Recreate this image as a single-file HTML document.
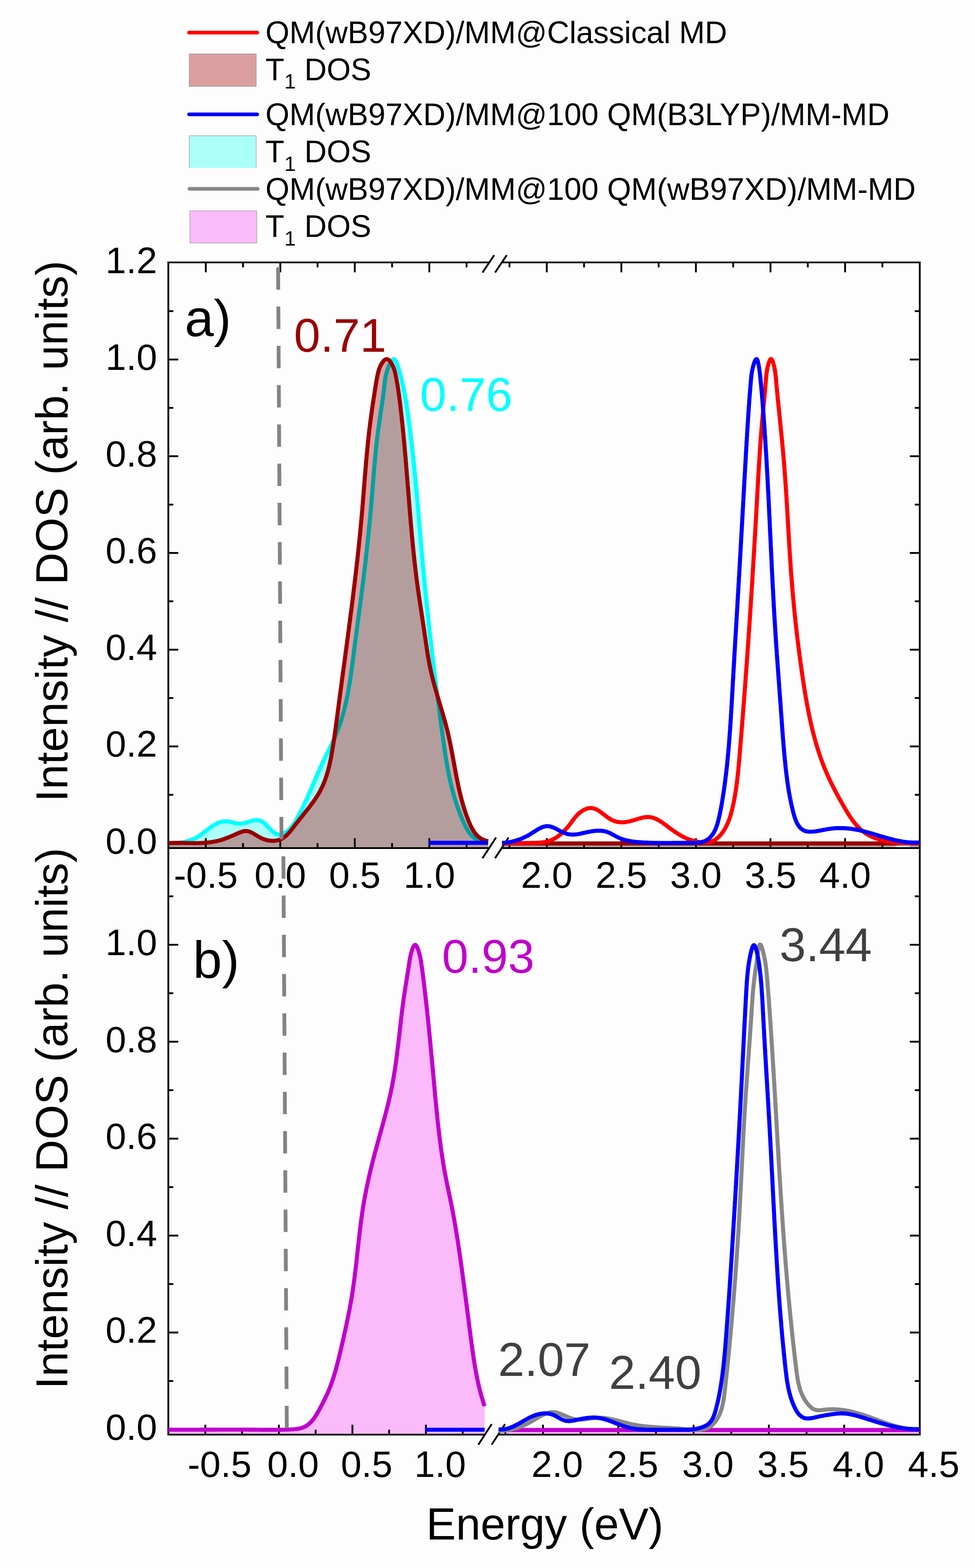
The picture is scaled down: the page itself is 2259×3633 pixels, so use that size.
<!DOCTYPE html><html><head><meta charset="utf-8"><title>T1 DOS and spectra</title>
<style>html,body{margin:0;padding:0;background:#fdfdfd;overflow:hidden;}svg{display:block;}text{font-family:"Liberation Sans",Arial,sans-serif;}</style></head><body>
<svg width="2259" height="3633" viewBox="0 0 2259 3633">
<rect x="0" y="0" width="2259" height="3633" fill="#fdfdfd"/>
<defs>
<path id="mf" d="M390,1953.3 394,1953.2 397.9,1953.1 401.9,1953 405.9,1953 409.9,1953 413.9,1953 417.9,1953 422,1953.1 426,1953.2 430,1953.2 434.1,1953.3 438.1,1953.4 442.1,1953.4 446.2,1953.4 450.2,1953.5 454.2,1953.4 458.3,1953.4 462.3,1953.3 466.3,1953.1 470.3,1952.9 474.3,1952.7 478.2,1952.4 482.2,1952 486.1,1951.6 490,1951 493.9,1950.4 497.8,1949.7 501.7,1948.9 505.5,1948 509.3,1947 513.1,1945.9 516.9,1944.7 520.6,1943.4 524.4,1942 528.1,1940.6 531.8,1939 535.6,1937.5 539.3,1935.9 543.1,1934.2 546.8,1932.6 550.7,1930.9 554.5,1929.3 558.4,1927.8 562.2,1926.5 566,1925.6 569.8,1925.3 573.4,1925.7 577,1926.5 580.5,1927.9 584,1929.5 587.4,1931.5 590.9,1933.6 594.5,1935.8 598.1,1937.9 601.7,1940 605.5,1942 609.4,1943.6 613.3,1945.1 617.3,1946.3 621.4,1947.2 625.4,1947.8 629.5,1948.1 633.5,1948.2 637.5,1947.9 641.3,1947.4 645.1,1946.5 648.8,1945.3 652.3,1943.7 655.6,1941.9 658.8,1939.7 661.8,1937.2 664.7,1934.6 667.5,1931.7 670.2,1928.7 672.9,1925.5 675.5,1922.3 678,1919 680.5,1915.8 683,1912.5 685.6,1909.3 688.1,1906.1 690.5,1903 693,1899.8 695.5,1896.7 698,1893.6 700.5,1890.5 702.9,1887.4 705.4,1884.3 707.8,1881.2 710.3,1878.1 712.7,1875 715.2,1871.9 717.6,1868.7 720,1865.5 722.4,1862.3 724.8,1859.1 727.1,1855.9 729.4,1852.6 731.6,1849.3 733.8,1845.9 735.9,1842.6 738,1839.2 740,1835.7 741.9,1832.2 743.7,1828.7 745.5,1825.1 747.2,1821.5 748.8,1817.9 750.3,1814.2 751.8,1810.5 753.2,1806.8 754.5,1803 755.8,1799.3 757,1795.5 758.2,1791.6 759.3,1787.8 760.4,1783.9 761.4,1780 762.4,1776.1 763.3,1772.2 764.2,1768.2 765.1,1764.3 765.9,1760.3 766.7,1756.3 767.4,1752.4 768.2,1748.4 768.9,1744.4 769.6,1740.4 770.2,1736.4 770.9,1732.4 771.5,1728.4 772.2,1724.4 772.8,1720.5 773.4,1716.5 774,1712.5 774.6,1708.5 775.1,1704.6 775.7,1700.6 776.3,1696.6 776.8,1692.7 777.4,1688.7 777.9,1684.7 778.5,1680.8 779,1676.8 779.5,1672.9 780,1668.9 780.6,1664.9 781.1,1661 781.6,1657 782.1,1653.1 782.6,1649.1 783.1,1645.2 783.7,1641.2 784.2,1637.2 784.7,1633.3 785.2,1629.3 785.7,1625.4 786.3,1621.4 786.8,1617.4 787.3,1613.5 787.8,1609.5 788.4,1605.6 788.9,1601.6 789.4,1597.6 790,1593.7 790.5,1589.7 791,1585.7 791.5,1581.8 792.1,1577.8 792.6,1573.8 793.1,1569.9 793.7,1565.9 794.2,1561.9 794.7,1557.9 795.3,1554 795.8,1550 796.3,1546 796.9,1542.1 797.4,1538.1 797.9,1534.1 798.5,1530.1 799,1526.2 799.5,1522.2 800.1,1518.2 800.6,1514.2 801.1,1510.3 801.7,1506.3 802.2,1502.3 802.7,1498.3 803.2,1494.4 803.8,1490.4 804.3,1486.4 804.8,1482.4 805.4,1478.5 805.9,1474.5 806.4,1470.5 806.9,1466.5 807.5,1462.6 808,1458.6 808.5,1454.6 809,1450.6 809.5,1446.6 810.1,1442.7 810.6,1438.7 811.1,1434.7 811.6,1430.7 812.1,1426.8 812.6,1422.8 813.1,1418.8 813.7,1414.8 814.2,1410.8 814.7,1406.9 815.2,1402.9 815.7,1398.9 816.2,1394.9 816.7,1391 817.2,1387 817.7,1383 818.2,1379 818.6,1375.1 819.1,1371.1 819.6,1367.1 820.1,1363.1 820.6,1359.1 821.1,1355.2 821.6,1351.2 822,1347.2 822.5,1343.2 823,1339.3 823.4,1335.3 823.9,1331.3 824.4,1327.3 824.8,1323.3 825.3,1319.4 825.8,1315.4 826.2,1311.4 826.7,1307.4 827.1,1303.5 827.6,1299.5 828,1295.5 828.4,1291.5 828.9,1287.5 829.3,1283.6 829.7,1279.6 830.2,1275.6 830.6,1271.6 831,1267.6 831.4,1263.6 831.8,1259.7 832.3,1255.7 832.7,1251.7 833.1,1247.7 833.5,1243.7 833.9,1239.7 834.3,1235.8 834.6,1231.8 835,1227.8 835.4,1223.8 835.8,1219.8 836.2,1215.8 836.5,1211.9 836.9,1207.9 837.3,1203.9 837.6,1199.9 838,1195.9 838.3,1191.9 838.7,1187.9 839,1183.9 839.4,1179.9 839.7,1176 840,1172 840.4,1168 840.7,1164 841,1160 841.3,1156 841.6,1152 842,1148 842.3,1144 842.6,1140 842.9,1136 843.2,1132 843.5,1128 843.9,1124 844.2,1120.1 844.5,1116.1 844.8,1112.1 845.1,1108.1 845.4,1104.1 845.8,1100.1 846.1,1096.1 846.4,1092.1 846.7,1088.1 847.1,1084.1 847.4,1080.1 847.8,1076.1 848.1,1072.1 848.4,1068.1 848.8,1064.1 849.2,1060.1 849.5,1056.1 849.9,1052.1 850.3,1048.1 850.6,1044.2 851,1040.2 851.4,1036.2 851.8,1032.2 852.2,1028.2 852.6,1024.2 853.1,1020.2 853.5,1016.2 853.9,1012.2 854.4,1008.2 854.8,1004.2 855.3,1000.2 855.7,996.2 856.2,992.3 856.7,988.3 857.2,984.3 857.7,980.3 858.2,976.3 858.7,972.3 859.3,968.4 859.8,964.4 860.3,960.4 860.9,956.4 861.4,952.5 862,948.5 862.6,944.5 863.1,940.6 863.7,936.6 864.3,932.7 864.9,928.7 865.5,924.8 866.1,920.8 866.7,916.9 867.3,913 867.9,909.1 868.5,905.1 869.1,901.2 869.7,897.3 870.4,893.4 871,889.5 871.7,885.6 872.3,881.7 873,877.9 873.8,874 874.6,870.1 875.4,866.2 876.3,862.4 877.4,858.5 878.6,854.6 880.2,850.6 882,846.6 884.2,842.6 886.8,838.6 889.6,835.3 892.6,832.9 895.7,832 898.8,832.8 901.8,835.1 904.7,838.4 907.3,842.3 909.5,846.4 911.3,850.4 912.8,854.3 914.1,858.2 915.1,862 916,865.9 916.9,869.7 917.6,873.6 918.4,877.4 919.1,881.3 919.8,885.2 920.5,889.1 921.1,893 921.8,897 922.4,900.9 923,904.8 923.5,908.8 924.1,912.7 924.6,916.7 925.1,920.7 925.7,924.6 926.2,928.6 926.7,932.6 927.1,936.6 927.6,940.6 928.1,944.5 928.6,948.5 929,952.5 929.5,956.5 929.9,960.5 930.4,964.4 930.8,968.4 931.2,972.4 931.7,976.4 932.1,980.4 932.5,984.4 932.9,988.3 933.3,992.3 933.7,996.3 934.1,1000.3 934.5,1004.3 934.9,1008.3 935.3,1012.3 935.6,1016.2 936,1020.2 936.4,1024.2 936.8,1028.2 937.1,1032.2 937.5,1036.2 937.8,1040.2 938.2,1044.2 938.5,1048.2 938.9,1052.2 939.2,1056.2 939.6,1060.2 939.9,1064.1 940.2,1068.1 940.6,1072.1 940.9,1076.1 941.2,1080.1 941.5,1084.1 941.9,1088.1 942.2,1092.1 942.5,1096.1 942.8,1100.1 943.2,1104.1 943.5,1108.1 943.8,1112.1 944.1,1116.1 944.4,1120.1 944.7,1124.1 945.1,1128.1 945.4,1132 945.7,1136 946,1140 946.3,1144 946.6,1148 947,1152 947.3,1156 947.6,1160 947.9,1164 948.2,1168 948.6,1172 948.9,1176 949.2,1180 949.5,1184 949.9,1188 950.2,1192 950.5,1196 950.9,1199.9 951.2,1203.9 951.5,1207.9 951.9,1211.9 952.2,1215.9 952.6,1219.9 952.9,1223.9 953.3,1227.9 953.6,1231.9 954,1235.9 954.3,1239.9 954.7,1243.9 955.1,1247.8 955.5,1251.8 955.8,1255.8 956.2,1259.8 956.6,1263.8 957,1267.8 957.4,1271.8 957.8,1275.8 958.2,1279.7 958.6,1283.7 959.1,1287.7 959.5,1291.7 959.9,1295.7 960.3,1299.7 960.8,1303.6 961.2,1307.6 961.7,1311.6 962.1,1315.6 962.6,1319.6 963.1,1323.5 963.6,1327.5 964,1331.5 964.5,1335.5 965,1339.4 965.5,1343.4 966.1,1347.4 966.6,1351.4 967.1,1355.3 967.7,1359.3 968.2,1363.3 968.7,1367.2 969.3,1371.2 969.9,1375.2 970.4,1379.2 971,1383.1 971.6,1387.1 972.2,1391.1 972.8,1395 973.4,1399 974,1402.9 974.6,1406.9 975.2,1410.9 975.8,1414.8 976.4,1418.8 977,1422.8 977.6,1426.7 978.2,1430.7 978.8,1434.7 979.4,1438.6 980,1442.6 980.6,1446.5 981.2,1450.5 981.8,1454.5 982.4,1458.4 983,1462.4 983.5,1466.4 984.1,1470.3 984.7,1474.3 985.3,1478.2 985.9,1482.2 986.4,1486.2 987,1490.1 987.6,1494.1 988.2,1498 988.8,1502 989.4,1506 990,1509.9 990.6,1513.9 991.3,1517.8 991.9,1521.7 992.6,1525.7 993.3,1529.6 994,1533.5 994.7,1537.5 995.5,1541.4 996.3,1545.3 997.1,1549.2 997.9,1553.1 998.8,1557 999.7,1560.9 1000.6,1564.8 1001.5,1568.7 1002.5,1572.6 1003.5,1576.5 1004.5,1580.3 1005.6,1584.2 1006.6,1588.1 1007.7,1591.9 1008.7,1595.8 1009.8,1599.6 1011,1603.5 1012.1,1607.3 1013.2,1611.2 1014.3,1615 1015.5,1618.9 1016.6,1622.7 1017.8,1626.6 1018.9,1630.4 1020.1,1634.3 1021.2,1638.1 1022.4,1641.9 1023.5,1645.8 1024.6,1649.6 1025.8,1653.5 1026.9,1657.3 1028,1661.2 1029.1,1665.1 1030.2,1668.9 1031.2,1672.8 1032.3,1676.6 1033.3,1680.5 1034.3,1684.4 1035.3,1688.3 1036.3,1692.2 1037.3,1696 1038.2,1699.9 1039.1,1703.8 1040,1707.7 1040.8,1711.6 1041.7,1715.6 1042.5,1719.5 1043.3,1723.4 1044.1,1727.3 1044.9,1731.2 1045.6,1735.2 1046.4,1739.1 1047.1,1743 1047.9,1747 1048.6,1750.9 1049.3,1754.8 1050.1,1758.8 1050.8,1762.7 1051.5,1766.6 1052.2,1770.6 1052.9,1774.5 1053.7,1778.5 1054.4,1782.4 1055.1,1786.3 1055.8,1790.3 1056.6,1794.2 1057.3,1798.1 1058.1,1802.1 1058.9,1806 1059.7,1809.9 1060.5,1813.9 1061.3,1817.8 1062.1,1821.7 1063,1825.6 1063.9,1829.5 1064.7,1833.4 1065.7,1837.3 1066.6,1841.2 1067.6,1845.1 1068.6,1849 1069.6,1852.9 1070.6,1856.8 1071.7,1860.6 1072.8,1864.5 1073.9,1868.4 1075.1,1872.2 1076.3,1876 1077.6,1879.9 1078.9,1883.7 1080.2,1887.5 1081.6,1891.3 1083,1895.2 1084.4,1898.9 1085.9,1902.7 1087.5,1906.5 1089.1,1910.2 1090.8,1913.9 1092.6,1917.5 1094.5,1921 1096.5,1924.4 1098.7,1927.7 1101,1930.8 1103.4,1933.8 1106.1,1936.5 1109,1939.1 1112,1941.4 1115.3,1943.5 1118.8,1945.3 1122.6,1946.9 1126.7,1948.1 1131,1949L1131,1963L390,1963Z"/>
<path id="cf" d="M390,1953.5 394,1953.6 398.1,1953.6 402.1,1953.5 406,1953.3 410,1953 414,1952.6 417.9,1952.1 421.9,1951.5 425.8,1950.8 429.8,1950 433.7,1949 437.6,1947.9 441.5,1946.7 445.3,1945.3 449,1943.7 452.6,1942 456.1,1940.1 459.5,1938 462.8,1935.9 466.1,1933.6 469.3,1931.2 472.4,1928.8 475.6,1926.3 478.7,1923.9 481.9,1921.4 485.2,1918.9 488.4,1916.6 491.8,1914.2 495.2,1912 498.8,1909.9 502.3,1908.1 506,1906.4 509.7,1905 513.5,1903.9 517.3,1903.2 521.2,1902.9 525.1,1903 529,1903.5 532.9,1904.2 536.9,1905.2 540.9,1906.1 544.9,1907.1 548.9,1907.8 552.9,1908.3 556.9,1908.4 560.9,1908.1 564.9,1907.4 568.9,1906.3 572.9,1905.2 576.9,1903.9 580.8,1902.7 584.7,1901.6 588.6,1900.7 592.4,1900.2 596.2,1900.2 599.9,1900.6 603.4,1901.6 606.8,1903.2 610,1905.3 613.1,1907.8 616.1,1910.6 619.1,1913.6 622,1916.8 625,1920 628,1923.1 631.2,1926 634.5,1928.7 638,1931 641.6,1932.8 645.2,1933.8 648.8,1934.1 652.3,1933.4 655.7,1932.1 659,1930.3 662.2,1928.3 665.2,1926 668,1923.5 670.8,1920.8 673.4,1917.9 676,1914.9 678.4,1911.7 680.7,1908.4 682.9,1905 685.1,1901.5 687.2,1898 689.3,1894.3 691.3,1890.7 693.2,1887 695.1,1883.4 697,1879.7 698.8,1876 700.6,1872.4 702.4,1868.7 704.2,1865.1 705.9,1861.4 707.6,1857.7 709.3,1854.1 711,1850.4 712.6,1846.8 714.2,1843.1 715.9,1839.4 717.5,1835.8 719,1832.1 720.6,1828.5 722.2,1824.8 723.8,1821.2 725.3,1817.5 726.9,1813.9 728.4,1810.2 730,1806.6 731.6,1802.9 733.1,1799.3 734.7,1795.7 736.3,1792 737.9,1788.4 739.5,1784.8 741.1,1781.1 742.7,1777.5 744.3,1773.9 746,1770.3 747.7,1766.7 749.4,1763 751.1,1759.4 752.9,1755.8 754.6,1752.2 756.4,1748.6 758.2,1745 760,1741.4 761.9,1737.8 763.7,1734.2 765.5,1730.6 767.2,1727 769,1723.4 770.7,1719.7 772.4,1716.1 774.1,1712.4 775.7,1708.7 777.3,1705 778.8,1701.3 780.3,1697.6 781.8,1693.9 783.2,1690.2 784.6,1686.4 785.9,1682.7 787.2,1678.9 788.5,1675.1 789.7,1671.3 790.9,1667.5 792.1,1663.7 793.2,1659.9 794.3,1656.1 795.4,1652.2 796.4,1648.4 797.5,1644.5 798.4,1640.6 799.4,1636.8 800.3,1632.9 801.2,1629 802.1,1625.1 802.9,1621.2 803.7,1617.3 804.5,1613.4 805.3,1609.4 806.1,1605.5 806.8,1601.6 807.5,1597.6 808.2,1593.7 808.9,1589.7 809.5,1585.8 810.2,1581.8 810.8,1577.9 811.4,1573.9 812,1569.9 812.6,1565.9 813.2,1562 813.7,1558 814.3,1554 814.8,1550 815.4,1546 815.9,1542.1 816.4,1538.1 816.9,1534.1 817.5,1530.1 818,1526.1 818.5,1522.1 819,1518.1 819.5,1514.1 820,1510.2 820.5,1506.2 821,1502.2 821.5,1498.2 822,1494.2 822.5,1490.2 823,1486.3 823.5,1482.3 824,1478.3 824.6,1474.4 825.1,1470.4 825.6,1466.4 826.1,1462.5 826.7,1458.5 827.2,1454.5 827.7,1450.6 828.3,1446.6 828.8,1442.6 829.3,1438.7 829.9,1434.7 830.4,1430.8 830.9,1426.8 831.5,1422.8 832,1418.9 832.5,1414.9 833.1,1411 833.6,1407 834.1,1403 834.6,1399.1 835.2,1395.1 835.7,1391.1 836.2,1387.2 836.7,1383.2 837.2,1379.2 837.7,1375.3 838.3,1371.3 838.8,1367.3 839.3,1363.4 839.8,1359.4 840.3,1355.4 840.8,1351.4 841.3,1347.4 841.7,1343.5 842.2,1339.5 842.7,1335.5 843.2,1331.5 843.7,1327.5 844.2,1323.6 844.6,1319.6 845.1,1315.6 845.6,1311.6 846,1307.6 846.5,1303.6 846.9,1299.6 847.4,1295.7 847.8,1291.7 848.3,1287.7 848.7,1283.7 849.2,1279.7 849.6,1275.7 850.1,1271.7 850.5,1267.7 850.9,1263.7 851.3,1259.8 851.8,1255.8 852.2,1251.8 852.6,1247.8 853,1243.8 853.4,1239.8 853.8,1235.8 854.2,1231.8 854.6,1227.8 855,1223.8 855.4,1219.9 855.8,1215.9 856.2,1211.9 856.6,1207.9 857,1203.9 857.3,1199.9 857.7,1195.9 858.1,1191.9 858.4,1187.9 858.8,1184 859.2,1180 859.5,1176 859.9,1172 860.2,1168 860.5,1164 860.9,1160 861.2,1156.1 861.5,1152.1 861.9,1148.1 862.2,1144.1 862.5,1140.1 862.8,1136.1 863.2,1132.2 863.5,1128.2 863.8,1124.2 864.1,1120.2 864.4,1116.2 864.7,1112.3 865.1,1108.3 865.4,1104.3 865.7,1100.3 866,1096.3 866.4,1092.4 866.7,1088.4 867,1084.4 867.4,1080.4 867.7,1076.4 868.1,1072.4 868.4,1068.5 868.8,1064.5 869.2,1060.5 869.5,1056.5 869.9,1052.5 870.3,1048.5 870.7,1044.5 871.1,1040.5 871.5,1036.5 871.9,1032.5 872.4,1028.5 872.8,1024.5 873.3,1020.5 873.7,1016.5 874.2,1012.5 874.7,1008.5 875.2,1004.5 875.7,1000.5 876.2,996.5 876.8,992.5 877.3,988.5 877.9,984.4 878.5,980.4 879,976.4 879.6,972.4 880.2,968.4 880.8,964.4 881.4,960.4 882,956.4 882.6,952.4 883.2,948.5 883.8,944.5 884.4,940.5 885,936.6 885.5,932.7 886.1,928.8 886.6,924.9 887.2,921 887.7,917.2 888.2,913.4 888.7,909.5 889.1,905.8 889.6,902 890,898.3 890.4,894.6 890.8,890.8 891.2,887.1 891.6,883.4 892.2,879.6 892.8,875.8 893.5,871.8 894.4,867.8 895.5,863.6 896.8,859.3 898.2,854.9 900,850.2 902,845.5 904.1,840.8 906.5,836.8 908.8,833.8 911.2,832.1 913.4,832.2 915.6,834.1 917.6,837.4 919.4,841.7 921.1,846.4 922.7,851.2 924.1,855.7 925.4,860 926.6,864.2 927.7,868.1 928.7,871.9 929.7,875.7 930.6,879.4 931.5,883.1 932.3,886.7 933.1,890.5 933.9,894.2 934.7,897.9 935.5,901.7 936.2,905.5 936.9,909.3 937.7,913.2 938.4,917 939.1,920.9 939.7,924.8 940.4,928.7 941.1,932.6 941.7,936.6 942.3,940.5 942.9,944.5 943.5,948.5 944.1,952.5 944.7,956.4 945.3,960.4 945.8,964.4 946.4,968.5 946.9,972.5 947.5,976.5 948,980.5 948.5,984.5 949,988.6 949.5,992.6 950,996.6 950.5,1000.6 951,1004.6 951.5,1008.6 952,1012.7 952.5,1016.7 952.9,1020.7 953.4,1024.6 953.9,1028.6 954.3,1032.6 954.8,1036.6 955.2,1040.6 955.7,1044.6 956.1,1048.5 956.5,1052.5 957,1056.5 957.4,1060.4 957.8,1064.4 958.2,1068.4 958.7,1072.3 959.1,1076.3 959.5,1080.3 959.9,1084.2 960.3,1088.2 960.7,1092.2 961.1,1096.2 961.5,1100.1 961.8,1104.1 962.2,1108.1 962.6,1112.1 963,1116 963.4,1120 963.7,1124 964.1,1128 964.5,1131.9 964.8,1135.9 965.2,1139.9 965.6,1143.9 965.9,1147.9 966.3,1151.9 966.6,1155.9 967,1159.8 967.3,1163.8 967.7,1167.8 968,1171.8 968.4,1175.8 968.7,1179.8 969,1183.8 969.4,1187.8 969.7,1191.8 970.1,1195.8 970.4,1199.8 970.7,1203.7 971.1,1207.7 971.4,1211.7 971.8,1215.7 972.1,1219.7 972.4,1223.7 972.8,1227.7 973.1,1231.7 973.5,1235.7 973.8,1239.7 974.1,1243.7 974.5,1247.7 974.8,1251.7 975.2,1255.7 975.5,1259.7 975.8,1263.7 976.2,1267.7 976.5,1271.7 976.9,1275.7 977.2,1279.7 977.6,1283.7 977.9,1287.7 978.3,1291.7 978.7,1295.6 979,1299.6 979.4,1303.6 979.7,1307.6 980.1,1311.6 980.5,1315.6 980.8,1319.6 981.2,1323.6 981.6,1327.6 982,1331.6 982.3,1335.6 982.7,1339.5 983.1,1343.5 983.5,1347.5 983.9,1351.5 984.3,1355.5 984.7,1359.5 985.1,1363.5 985.4,1367.5 985.8,1371.4 986.2,1375.4 986.6,1379.4 987.1,1383.4 987.5,1387.4 987.9,1391.4 988.3,1395.4 988.7,1399.3 989.1,1403.3 989.5,1407.3 989.9,1411.3 990.4,1415.3 990.8,1419.2 991.2,1423.2 991.6,1427.2 992.1,1431.2 992.5,1435.2 992.9,1439.2 993.4,1443.1 993.8,1447.1 994.2,1451.1 994.7,1455.1 995.1,1459 995.5,1463 996,1467 996.4,1471 996.9,1475 997.3,1478.9 997.8,1482.9 998.2,1486.9 998.7,1490.9 999.2,1494.9 999.6,1498.8 1000.1,1502.8 1000.5,1506.8 1001,1510.8 1001.5,1514.7 1001.9,1518.7 1002.4,1522.7 1002.9,1526.7 1003.4,1530.6 1003.8,1534.6 1004.3,1538.6 1004.8,1542.6 1005.3,1546.5 1005.7,1550.5 1006.2,1554.5 1006.7,1558.5 1007.2,1562.4 1007.7,1566.4 1008.2,1570.4 1008.7,1574.4 1009.2,1578.3 1009.7,1582.3 1010.2,1586.3 1010.7,1590.3 1011.2,1594.2 1011.7,1598.2 1012.2,1602.2 1012.7,1606.2 1013.2,1610.1 1013.7,1614.1 1014.2,1618.1 1014.7,1622.1 1015.2,1626 1015.7,1630 1016.2,1634 1016.8,1638 1017.3,1641.9 1017.8,1645.9 1018.3,1649.9 1018.8,1653.9 1019.4,1657.8 1019.9,1661.8 1020.4,1665.8 1020.9,1669.8 1021.5,1673.7 1022,1677.7 1022.5,1681.7 1023.1,1685.7 1023.6,1689.6 1024.1,1693.6 1024.7,1697.6 1025.2,1701.6 1025.7,1705.5 1026.3,1709.5 1026.8,1713.5 1027.4,1717.5 1027.9,1721.4 1028.5,1725.4 1029.1,1729.4 1029.6,1733.3 1030.2,1737.3 1030.8,1741.3 1031.4,1745.2 1032,1749.2 1032.6,1753.2 1033.3,1757.1 1033.9,1761.1 1034.6,1765 1035.2,1769 1035.9,1772.9 1036.6,1776.9 1037.3,1780.8 1038.1,1784.7 1038.8,1788.7 1039.6,1792.6 1040.4,1796.5 1041.2,1800.4 1042,1804.3 1042.9,1808.2 1043.7,1812.1 1044.6,1816 1045.6,1819.9 1046.5,1823.8 1047.5,1827.7 1048.5,1831.5 1049.5,1835.4 1050.6,1839.2 1051.6,1843.1 1052.7,1846.9 1053.9,1850.8 1055.1,1854.6 1056.3,1858.4 1057.5,1862.2 1058.8,1866 1060.1,1869.8 1061.4,1873.6 1062.8,1877.3 1064.2,1881.1 1065.6,1884.9 1067.1,1888.6 1068.6,1892.3 1070.2,1896.1 1071.8,1899.8 1073.4,1903.5 1075.1,1907.2 1076.8,1910.8 1078.6,1914.5 1080.5,1918.1 1082.4,1921.7 1084.5,1925.1 1086.6,1928.4 1089,1931.6 1091.5,1934.6 1094.2,1937.5 1097.1,1940.1 1100.2,1942.4 1103.6,1944.5 1107.2,1946.3 1111.1,1947.8 1115.2,1949 1119.3,1950 1123.4,1950.8 1127.4,1951.5 1131,1952L1131,1963L390,1963Z"/>
<path id="cl" d="M390,1953.5 394,1953.6 398.1,1953.6 402.1,1953.5 406,1953.3 410,1953 414,1952.6 417.9,1952.1 421.9,1951.5 425.8,1950.8 429.8,1950 433.7,1949 437.6,1947.9 441.5,1946.7 445.3,1945.3 449,1943.7 452.6,1942 456.1,1940.1 459.5,1938 462.8,1935.9 466.1,1933.6 469.3,1931.2 472.4,1928.8 475.6,1926.3 478.7,1923.9 481.9,1921.4 485.2,1918.9 488.4,1916.6 491.8,1914.2 495.2,1912 498.8,1909.9 502.3,1908.1 506,1906.4 509.7,1905 513.5,1903.9 517.3,1903.2 521.2,1902.9 525.1,1903 529,1903.5 532.9,1904.2 536.9,1905.2 540.9,1906.1 544.9,1907.1 548.9,1907.8 552.9,1908.3 556.9,1908.4 560.9,1908.1 564.9,1907.4 568.9,1906.3 572.9,1905.2 576.9,1903.9 580.8,1902.7 584.7,1901.6 588.6,1900.7 592.4,1900.2 596.2,1900.2 599.9,1900.6 603.4,1901.6 606.8,1903.2 610,1905.3 613.1,1907.8 616.1,1910.6 619.1,1913.6 622,1916.8 625,1920 628,1923.1 631.2,1926 634.5,1928.7 638,1931 641.6,1932.8 645.2,1933.8 648.8,1934.1 652.3,1933.4 655.7,1932.1 659,1930.3 662.2,1928.3 665.2,1926 668,1923.5 670.8,1920.8 673.4,1917.9 676,1914.9 678.4,1911.7 680.7,1908.4 682.9,1905 685.1,1901.5 687.2,1898 689.3,1894.3 691.3,1890.7 693.2,1887 695.1,1883.4 697,1879.7 698.8,1876 700.6,1872.4 702.4,1868.7 704.2,1865.1 705.9,1861.4 707.6,1857.7 709.3,1854.1 711,1850.4 712.6,1846.8 714.2,1843.1 715.9,1839.4 717.5,1835.8 719,1832.1 720.6,1828.5 722.2,1824.8 723.8,1821.2 725.3,1817.5 726.9,1813.9 728.4,1810.2 730,1806.6 731.6,1802.9 733.1,1799.3 734.7,1795.7 736.3,1792 737.9,1788.4 739.5,1784.8 741.1,1781.1 742.7,1777.5 744.3,1773.9 746,1770.3 747.7,1766.7 749.4,1763 751.1,1759.4 752.9,1755.8 754.6,1752.2 756.4,1748.6 758.2,1745 760,1741.4 761.9,1737.8 763.7,1734.2 765.5,1730.6 767.2,1727 769,1723.4 770.7,1719.7 772.4,1716.1 774.1,1712.4 775.7,1708.7 777.3,1705 778.8,1701.3 780.3,1697.6 781.8,1693.9 783.2,1690.2 784.6,1686.4 785.9,1682.7 787.2,1678.9 788.5,1675.1 789.7,1671.3 790.9,1667.5 792.1,1663.7 793.2,1659.9 794.3,1656.1 795.4,1652.2 796.4,1648.4 797.5,1644.5 798.4,1640.6 799.4,1636.8 800.3,1632.9 801.2,1629 802.1,1625.1 802.9,1621.2 803.7,1617.3 804.5,1613.4 805.3,1609.4 806.1,1605.5 806.8,1601.6 807.5,1597.6 808.2,1593.7 808.9,1589.7 809.5,1585.8 810.2,1581.8 810.8,1577.9 811.4,1573.9 812,1569.9 812.6,1565.9 813.2,1562 813.7,1558 814.3,1554 814.8,1550 815.4,1546 815.9,1542.1 816.4,1538.1 816.9,1534.1 817.5,1530.1 818,1526.1 818.5,1522.1 819,1518.1 819.5,1514.1 820,1510.2 820.5,1506.2 821,1502.2 821.5,1498.2 822,1494.2 822.5,1490.2 823,1486.3 823.5,1482.3 824,1478.3 824.6,1474.4 825.1,1470.4 825.6,1466.4 826.1,1462.5 826.7,1458.5 827.2,1454.5 827.7,1450.6 828.3,1446.6 828.8,1442.6 829.3,1438.7 829.9,1434.7 830.4,1430.8 830.9,1426.8 831.5,1422.8 832,1418.9 832.5,1414.9 833.1,1411 833.6,1407 834.1,1403 834.6,1399.1 835.2,1395.1 835.7,1391.1 836.2,1387.2 836.7,1383.2 837.2,1379.2 837.7,1375.3 838.3,1371.3 838.8,1367.3 839.3,1363.4 839.8,1359.4 840.3,1355.4 840.8,1351.4 841.3,1347.4 841.7,1343.5 842.2,1339.5 842.7,1335.5 843.2,1331.5 843.7,1327.5 844.2,1323.6 844.6,1319.6 845.1,1315.6 845.6,1311.6 846,1307.6 846.5,1303.6 846.9,1299.6 847.4,1295.7 847.8,1291.7 848.3,1287.7 848.7,1283.7 849.2,1279.7 849.6,1275.7 850.1,1271.7 850.5,1267.7 850.9,1263.7 851.3,1259.8 851.8,1255.8 852.2,1251.8 852.6,1247.8 853,1243.8 853.4,1239.8 853.8,1235.8 854.2,1231.8 854.6,1227.8 855,1223.8 855.4,1219.9 855.8,1215.9 856.2,1211.9 856.6,1207.9 857,1203.9 857.3,1199.9 857.7,1195.9 858.1,1191.9 858.4,1187.9 858.8,1184 859.2,1180 859.5,1176 859.9,1172 860.2,1168 860.5,1164 860.9,1160 861.2,1156.1 861.5,1152.1 861.9,1148.1 862.2,1144.1 862.5,1140.1 862.8,1136.1 863.2,1132.2 863.5,1128.2 863.8,1124.2 864.1,1120.2 864.4,1116.2 864.7,1112.3 865.1,1108.3 865.4,1104.3 865.7,1100.3 866,1096.3 866.4,1092.4 866.7,1088.4 867,1084.4 867.4,1080.4 867.7,1076.4 868.1,1072.4 868.4,1068.5 868.8,1064.5 869.2,1060.5 869.5,1056.5 869.9,1052.5 870.3,1048.5 870.7,1044.5 871.1,1040.5 871.5,1036.5 871.9,1032.5 872.4,1028.5 872.8,1024.5 873.3,1020.5 873.7,1016.5 874.2,1012.5 874.7,1008.5 875.2,1004.5 875.7,1000.5 876.2,996.5 876.8,992.5 877.3,988.5 877.9,984.4 878.5,980.4 879,976.4 879.6,972.4 880.2,968.4 880.8,964.4 881.4,960.4 882,956.4 882.6,952.4 883.2,948.5 883.8,944.5 884.4,940.5 885,936.6 885.5,932.7 886.1,928.8 886.6,924.9 887.2,921 887.7,917.2 888.2,913.4 888.7,909.5 889.1,905.8 889.6,902 890,898.3 890.4,894.6 890.8,890.8 891.2,887.1 891.6,883.4 892.2,879.6 892.8,875.8 893.5,871.8 894.4,867.8 895.5,863.6 896.8,859.3 898.2,854.9 900,850.2 902,845.5 904.1,840.8 906.5,836.8 908.8,833.8 911.2,832.1 913.4,832.2 915.6,834.1 917.6,837.4 919.4,841.7 921.1,846.4 922.7,851.2 924.1,855.7 925.4,860 926.6,864.2 927.7,868.1 928.7,871.9 929.7,875.7 930.6,879.4 931.5,883.1 932.3,886.7 933.1,890.5 933.9,894.2 934.7,897.9 935.5,901.7 936.2,905.5 936.9,909.3 937.7,913.2 938.4,917 939.1,920.9 939.7,924.8 940.4,928.7 941.1,932.6 941.7,936.6 942.3,940.5 942.9,944.5 943.5,948.5 944.1,952.5 944.7,956.4 945.3,960.4 945.8,964.4 946.4,968.5 946.9,972.5 947.5,976.5 948,980.5 948.5,984.5 949,988.6 949.5,992.6 950,996.6 950.5,1000.6 951,1004.6 951.5,1008.6 952,1012.7 952.5,1016.7 952.9,1020.7 953.4,1024.6 953.9,1028.6 954.3,1032.6 954.8,1036.6 955.2,1040.6 955.7,1044.6 956.1,1048.5 956.5,1052.5 957,1056.5 957.4,1060.4 957.8,1064.4 958.2,1068.4 958.7,1072.3 959.1,1076.3 959.5,1080.3 959.9,1084.2 960.3,1088.2 960.7,1092.2 961.1,1096.2 961.5,1100.1 961.8,1104.1 962.2,1108.1 962.6,1112.1 963,1116 963.4,1120 963.7,1124 964.1,1128 964.5,1131.9 964.8,1135.9 965.2,1139.9 965.6,1143.9 965.9,1147.9 966.3,1151.9 966.6,1155.9 967,1159.8 967.3,1163.8 967.7,1167.8 968,1171.8 968.4,1175.8 968.7,1179.8 969,1183.8 969.4,1187.8 969.7,1191.8 970.1,1195.8 970.4,1199.8 970.7,1203.7 971.1,1207.7 971.4,1211.7 971.8,1215.7 972.1,1219.7 972.4,1223.7 972.8,1227.7 973.1,1231.7 973.5,1235.7 973.8,1239.7 974.1,1243.7 974.5,1247.7 974.8,1251.7 975.2,1255.7 975.5,1259.7 975.8,1263.7 976.2,1267.7 976.5,1271.7 976.9,1275.7 977.2,1279.7 977.6,1283.7 977.9,1287.7 978.3,1291.7 978.7,1295.6 979,1299.6 979.4,1303.6 979.7,1307.6 980.1,1311.6 980.5,1315.6 980.8,1319.6 981.2,1323.6 981.6,1327.6 982,1331.6 982.3,1335.6 982.7,1339.5 983.1,1343.5 983.5,1347.5 983.9,1351.5 984.3,1355.5 984.7,1359.5 985.1,1363.5 985.4,1367.5 985.8,1371.4 986.2,1375.4 986.6,1379.4 987.1,1383.4 987.5,1387.4 987.9,1391.4 988.3,1395.4 988.7,1399.3 989.1,1403.3 989.5,1407.3 989.9,1411.3 990.4,1415.3 990.8,1419.2 991.2,1423.2 991.6,1427.2 992.1,1431.2 992.5,1435.2 992.9,1439.2 993.4,1443.1 993.8,1447.1 994.2,1451.1 994.7,1455.1 995.1,1459 995.5,1463 996,1467 996.4,1471 996.9,1475 997.3,1478.9 997.8,1482.9 998.2,1486.9 998.7,1490.9 999.2,1494.9 999.6,1498.8 1000.1,1502.8 1000.5,1506.8 1001,1510.8 1001.5,1514.7 1001.9,1518.7 1002.4,1522.7 1002.9,1526.7 1003.4,1530.6 1003.8,1534.6 1004.3,1538.6 1004.8,1542.6 1005.3,1546.5 1005.7,1550.5 1006.2,1554.5 1006.7,1558.5 1007.2,1562.4 1007.7,1566.4 1008.2,1570.4 1008.7,1574.4 1009.2,1578.3 1009.7,1582.3 1010.2,1586.3 1010.7,1590.3 1011.2,1594.2 1011.7,1598.2 1012.2,1602.2 1012.7,1606.2 1013.2,1610.1 1013.7,1614.1 1014.2,1618.1 1014.7,1622.1 1015.2,1626 1015.7,1630 1016.2,1634 1016.8,1638 1017.3,1641.9 1017.8,1645.9 1018.3,1649.9 1018.8,1653.9 1019.4,1657.8 1019.9,1661.8 1020.4,1665.8 1020.9,1669.8 1021.5,1673.7 1022,1677.7 1022.5,1681.7 1023.1,1685.7 1023.6,1689.6 1024.1,1693.6 1024.7,1697.6 1025.2,1701.6 1025.7,1705.5 1026.3,1709.5 1026.8,1713.5 1027.4,1717.5 1027.9,1721.4 1028.5,1725.4 1029.1,1729.4 1029.6,1733.3 1030.2,1737.3 1030.8,1741.3 1031.4,1745.2 1032,1749.2 1032.6,1753.2 1033.3,1757.1 1033.9,1761.1 1034.6,1765 1035.2,1769 1035.9,1772.9 1036.6,1776.9 1037.3,1780.8 1038.1,1784.7 1038.8,1788.7 1039.6,1792.6 1040.4,1796.5 1041.2,1800.4 1042,1804.3 1042.9,1808.2 1043.7,1812.1 1044.6,1816 1045.6,1819.9 1046.5,1823.8 1047.5,1827.7 1048.5,1831.5 1049.5,1835.4 1050.6,1839.2 1051.6,1843.1 1052.7,1846.9 1053.9,1850.8 1055.1,1854.6 1056.3,1858.4 1057.5,1862.2 1058.8,1866 1060.1,1869.8 1061.4,1873.6 1062.8,1877.3 1064.2,1881.1 1065.6,1884.9 1067.1,1888.6 1068.6,1892.3 1070.2,1896.1 1071.8,1899.8 1073.4,1903.5 1075.1,1907.2 1076.8,1910.8 1078.6,1914.5 1080.5,1918.1 1082.4,1921.7 1084.5,1925.1 1086.6,1928.4 1089,1931.6 1091.5,1934.6 1094.2,1937.5 1097.1,1940.1 1100.2,1942.4 1103.6,1944.5 1107.2,1946.3 1111.1,1947.8 1115.2,1949 1119.3,1950 1123.4,1950.8 1127.4,1951.5 1131,1952"/>
<clipPath id="cm"><use href="#mf"/></clipPath>
<clipPath id="pa"><rect x="390" y="608" width="1741" height="1357"/></clipPath>
<clipPath id="pb"><rect x="390" y="1965" width="1741" height="1359"/></clipPath>
</defs>
<g clip-path="url(#pa)" fill="none" stroke-linejoin="round">
<use href="#cf" fill="#abfffa" stroke="none"/>
<use href="#cl" stroke="#00ffff" stroke-width="9.4"/>
<use href="#mf" fill="#dc9fa0" stroke="none"/>
<g clip-path="url(#cm)"><use href="#cf" fill="#b49d9d" stroke="none"/><use href="#cl" stroke="#00a0a0" stroke-width="9.4"/></g>
<rect x="1163" y="1954" width="968" height="9" fill="#b49d9d"/>
<rect x="2069" y="1957" width="8" height="6" fill="#dc9fa0"/><rect x="2077" y="1957" width="23" height="6" fill="#fdfdfd"/><rect x="2100" y="1957" width="8" height="6" fill="#abfffa"/>
</g>
<g clip-path="url(#pb)">
<path d="M390,3312.5 394,3312.5 398,3312.5 402,3312.6 406,3312.6 410,3312.6 414,3312.6 418,3312.6 422,3312.6 426,3312.6 430,3312.6 434,3312.6 438.1,3312.6 442.1,3312.6 446.1,3312.6 450.1,3312.6 454.1,3312.6 458.1,3312.6 462.1,3312.6 466.1,3312.5 470.1,3312.5 474.1,3312.5 478.2,3312.5 482.2,3312.5 486.2,3312.5 490.2,3312.5 494.2,3312.5 498.2,3312.4 502.2,3312.4 506.2,3312.4 510.3,3312.4 514.3,3312.4 518.3,3312.4 522.3,3312.4 526.3,3312.4 530.3,3312.4 534.3,3312.4 538.3,3312.4 542.3,3312.4 546.3,3312.4 550.3,3312.4 554.3,3312.4 558.4,3312.4 562.4,3312.4 566.4,3312.4 570.4,3312.4 574.4,3312.4 578.4,3312.5 582.4,3312.5 586.4,3312.5 590.4,3312.5 594.4,3312.6 598.3,3312.6 602.3,3312.7 606.3,3312.7 610.3,3312.7 614.3,3312.8 618.3,3312.8 622.3,3312.8 626.3,3312.8 630.3,3312.8 634.3,3312.8 638.3,3312.8 642.4,3312.8 646.4,3312.7 650.4,3312.7 654.4,3312.6 658.5,3312.5 662.5,3312.4 666.6,3312.3 670.6,3312.1 674.7,3311.9 678.7,3311.7 682.8,3311.4 686.8,3311 690.7,3310.4 694.5,3309.7 698.3,3308.7 701.9,3307.5 705.4,3306 708.8,3304.2 712,3302.1 715.1,3299.8 718,3297.2 720.8,3294.3 723.5,3291.3 726.1,3288.1 728.5,3284.7 730.9,3281.2 733.2,3277.6 735.4,3274 737.5,3270.2 739.6,3266.5 741.6,3262.7 743.6,3259 745.5,3255.3 747.4,3251.7 749.2,3248 751,3244.5 752.8,3240.9 754.5,3237.3 756.1,3233.8 757.8,3230.2 759.4,3226.7 760.9,3223.1 762.4,3219.5 763.9,3215.9 765.3,3212.3 766.7,3208.7 768.1,3205 769.4,3201.3 770.6,3197.5 771.9,3193.8 773.1,3190 774.3,3186.2 775.4,3182.4 776.6,3178.5 777.7,3174.7 778.7,3170.8 779.8,3166.9 780.8,3163 781.8,3159.1 782.8,3155.2 783.8,3151.3 784.8,3147.4 785.7,3143.4 786.7,3139.5 787.6,3135.6 788.5,3131.6 789.5,3127.7 790.4,3123.8 791.3,3119.8 792.2,3115.9 793.1,3112 794,3108 794.9,3104.1 795.8,3100.2 796.7,3096.3 797.5,3092.4 798.4,3088.4 799.3,3084.5 800.2,3080.6 801,3076.7 801.9,3072.8 802.7,3068.9 803.5,3065 804.3,3061.1 805.2,3057.2 806,3053.2 806.7,3049.3 807.5,3045.4 808.3,3041.5 809.1,3037.6 809.8,3033.7 810.6,3029.8 811.3,3025.8 812,3021.9 812.7,3018 813.4,3014.1 814.1,3010.1 814.7,3006.2 815.4,3002.3 816,2998.3 816.6,2994.4 817.2,2990.4 817.8,2986.5 818.4,2982.5 818.9,2978.5 819.5,2974.6 820,2970.6 820.6,2966.6 821.1,2962.7 821.6,2958.7 822.1,2954.7 822.6,2950.7 823.1,2946.7 823.5,2942.8 824,2938.8 824.5,2934.8 824.9,2930.8 825.4,2926.8 825.8,2922.8 826.3,2918.8 826.7,2914.8 827.2,2910.8 827.6,2906.8 828,2902.8 828.5,2898.8 828.9,2894.8 829.3,2890.8 829.8,2886.9 830.2,2882.9 830.7,2878.9 831.1,2874.9 831.6,2870.9 832,2866.9 832.5,2862.9 832.9,2858.9 833.4,2854.9 833.9,2850.9 834.4,2846.9 834.8,2842.9 835.3,2838.9 835.8,2835 836.4,2831 836.9,2827 837.4,2823 838,2819.1 838.5,2815.1 839.1,2811.1 839.7,2807.2 840.3,2803.2 840.9,2799.2 841.5,2795.3 842.2,2791.3 842.9,2787.4 843.5,2783.4 844.2,2779.5 844.9,2775.6 845.7,2771.6 846.4,2767.7 847.2,2763.8 847.9,2759.9 848.7,2755.9 849.5,2752 850.3,2748.1 851.1,2744.2 852,2740.3 852.8,2736.4 853.7,2732.5 854.5,2728.6 855.4,2724.7 856.3,2720.8 857.2,2716.9 858.2,2713 859.1,2709.1 860,2705.2 861,2701.4 861.9,2697.5 862.9,2693.6 863.9,2689.7 864.9,2685.8 865.9,2682 866.9,2678.1 867.9,2674.2 868.9,2670.3 870,2666.5 871,2662.6 872.1,2658.7 873.1,2654.9 874.2,2651 875.2,2647.1 876.3,2643.3 877.4,2639.4 878.4,2635.5 879.5,2631.7 880.6,2627.8 881.7,2623.9 882.7,2620.1 883.8,2616.2 884.9,2612.3 885.9,2608.5 887,2604.6 888,2600.7 889.1,2596.9 890.1,2593 891.2,2589.1 892.2,2585.3 893.2,2581.4 894.2,2577.5 895.2,2573.6 896.2,2569.7 897.2,2565.8 898.2,2562 899.1,2558.1 900.1,2554.2 901,2550.3 901.9,2546.4 902.8,2542.5 903.7,2538.6 904.6,2534.7 905.4,2530.8 906.2,2526.8 907,2522.9 907.8,2519 908.6,2515.1 909.3,2511.1 910,2507.2 910.8,2503.3 911.4,2499.3 912.1,2495.4 912.8,2491.4 913.4,2487.5 914,2483.5 914.7,2479.6 915.3,2475.6 915.8,2471.7 916.4,2467.7 917,2463.7 917.5,2459.8 918.1,2455.8 918.6,2451.8 919.1,2447.8 919.6,2443.9 920.1,2439.9 920.6,2435.9 921.1,2431.9 921.6,2428 922.1,2424 922.6,2420 923,2416 923.5,2412 924,2408 924.4,2404 924.9,2400 925.3,2396.1 925.8,2392.1 926.2,2388.1 926.7,2384.1 927.1,2380.1 927.6,2376.1 928,2372.1 928.5,2368.1 929,2364.1 929.4,2360.1 929.9,2356.2 930.4,2352.2 930.9,2348.2 931.3,2344.2 931.8,2340.2 932.3,2336.2 932.8,2332.2 933.4,2328.3 933.9,2324.3 934.4,2320.3 935,2316.3 935.5,2312.3 936.1,2308.4 936.7,2304.4 937.3,2300.4 937.9,2296.4 938.5,2292.5 939.1,2288.5 939.7,2284.6 940.4,2280.6 941,2276.7 941.6,2272.8 942.3,2268.8 942.9,2264.9 943.5,2261 944.1,2257.2 944.8,2253.3 945.4,2249.4 946,2245.6 946.6,2241.8 947.1,2238 947.7,2234.2 948.3,2230.4 948.8,2226.6 949.5,2222.7 950.2,2218.7 951.1,2214.5 952.2,2210 953.5,2205.3 955,2200.4 956.7,2195.7 958.6,2192 960.6,2189.7 962.6,2189.3 964.5,2191 966.4,2194.3 968.2,2198.7 969.9,2203.5 971.3,2208.4 972.5,2212.9 973.5,2217.2 974.3,2221.2 975,2225.1 975.7,2228.9 976.2,2232.7 976.8,2236.5 977.3,2240.3 977.9,2244.1 978.4,2248 978.9,2251.9 979.4,2255.8 979.9,2259.7 980.4,2263.6 980.9,2267.6 981.4,2271.5 981.9,2275.5 982.4,2279.4 982.8,2283.4 983.3,2287.4 983.8,2291.3 984.2,2295.3 984.7,2299.3 985.2,2303.3 985.6,2307.2 986.1,2311.2 986.5,2315.2 987,2319.2 987.4,2323.2 987.9,2327.2 988.3,2331.2 988.8,2335.2 989.2,2339.2 989.6,2343.2 990,2347.1 990.5,2351.1 990.9,2355.1 991.3,2359.1 991.7,2363.1 992.1,2367.1 992.5,2371.1 992.9,2375.1 993.4,2379.1 993.8,2383.1 994.2,2387.1 994.5,2391.1 994.9,2395 995.3,2399 995.7,2403 996.1,2407 996.5,2411 996.9,2415 997.3,2419 997.6,2423 998,2427 998.4,2430.9 998.8,2434.9 999.1,2438.9 999.5,2442.9 999.9,2446.9 1000.3,2450.9 1000.6,2454.9 1001,2458.9 1001.4,2462.8 1001.7,2466.8 1002.1,2470.8 1002.5,2474.8 1002.8,2478.8 1003.2,2482.8 1003.6,2486.8 1003.9,2490.8 1004.3,2494.7 1004.7,2498.7 1005,2502.7 1005.4,2506.7 1005.8,2510.7 1006.1,2514.7 1006.5,2518.7 1006.9,2522.7 1007.2,2526.7 1007.6,2530.7 1008,2534.6 1008.3,2538.6 1008.7,2542.6 1009.1,2546.6 1009.5,2550.6 1009.8,2554.6 1010.2,2558.6 1010.6,2562.6 1011,2566.6 1011.4,2570.6 1011.8,2574.5 1012.2,2578.5 1012.6,2582.5 1013,2586.5 1013.4,2590.5 1013.8,2594.5 1014.2,2598.5 1014.7,2602.5 1015.1,2606.4 1015.5,2610.4 1016,2614.4 1016.5,2618.4 1016.9,2622.4 1017.4,2626.4 1017.9,2630.3 1018.3,2634.3 1018.8,2638.3 1019.3,2642.3 1019.8,2646.2 1020.4,2650.2 1020.9,2654.2 1021.4,2658.1 1022,2662.1 1022.5,2666.1 1023.1,2670 1023.7,2674 1024.3,2677.9 1024.9,2681.9 1025.5,2685.9 1026.1,2689.8 1026.7,2693.8 1027.4,2697.7 1028.1,2701.7 1028.7,2705.6 1029.4,2709.5 1030.1,2713.5 1030.8,2717.4 1031.6,2721.3 1032.3,2725.3 1033.1,2729.2 1033.8,2733.1 1034.6,2737 1035.4,2741 1036.2,2744.9 1037,2748.8 1037.8,2752.7 1038.7,2756.6 1039.5,2760.6 1040.3,2764.5 1041.1,2768.4 1041.9,2772.3 1042.8,2776.2 1043.6,2780.1 1044.4,2784.1 1045.2,2788 1046,2791.9 1046.8,2795.8 1047.5,2799.8 1048.3,2803.7 1049,2807.6 1049.8,2811.6 1050.5,2815.5 1051.2,2819.5 1051.9,2823.4 1052.6,2827.4 1053.3,2831.3 1054,2835.3 1054.7,2839.2 1055.4,2843.2 1056,2847.1 1056.7,2851.1 1057.3,2855.1 1058,2859 1058.6,2863 1059.2,2866.9 1059.9,2870.9 1060.5,2874.9 1061.1,2878.8 1061.7,2882.8 1062.3,2886.8 1062.9,2890.7 1063.5,2894.7 1064.1,2898.7 1064.6,2902.6 1065.2,2906.6 1065.8,2910.6 1066.4,2914.5 1066.9,2918.5 1067.5,2922.5 1068.1,2926.4 1068.6,2930.4 1069.2,2934.4 1069.7,2938.3 1070.3,2942.3 1070.8,2946.3 1071.3,2950.2 1071.9,2954.2 1072.4,2958.2 1073,2962.1 1073.5,2966.1 1074,2970.1 1074.5,2974 1075.1,2978 1075.6,2982 1076.1,2986 1076.6,2989.9 1077.2,2993.9 1077.7,2997.9 1078.2,3001.8 1078.7,3005.8 1079.2,3009.8 1079.7,3013.7 1080.3,3017.7 1080.8,3021.7 1081.3,3025.7 1081.8,3029.6 1082.3,3033.6 1082.8,3037.6 1083.3,3041.5 1083.8,3045.5 1084.3,3049.5 1084.9,3053.5 1085.4,3057.4 1085.9,3061.4 1086.4,3065.4 1086.9,3069.4 1087.4,3073.3 1087.9,3077.3 1088.4,3081.3 1089,3085.3 1089.5,3089.2 1090,3093.2 1090.5,3097.2 1091,3101.2 1091.6,3105.1 1092.1,3109.1 1092.6,3113.1 1093.2,3117.1 1093.7,3121 1094.2,3125 1094.8,3129 1095.4,3133 1095.9,3136.9 1096.5,3140.9 1097.1,3144.9 1097.7,3148.8 1098.3,3152.8 1098.9,3156.8 1099.6,3160.7 1100.2,3164.7 1100.9,3168.6 1101.6,3172.6 1102.3,3176.5 1103,3180.5 1103.8,3184.4 1104.5,3188.3 1105.3,3192.2 1106.1,3196.2 1107,3200.1 1107.8,3204 1108.7,3207.9 1109.6,3211.8 1110.5,3215.7 1111.5,3219.6 1112.5,3223.4 1113.5,3227.3 1114.6,3231.2 1115.6,3235 1116.7,3238.9 1117.9,3242.7 1119.1,3246.6 1120.3,3250.4 1121.5,3254.2 1122.8,3258L1122.8,3322L390,3322Z" fill="#fbbaf9" stroke="none"/>
<rect x="1155" y="3313" width="976" height="9" fill="#fbbaf9"/>
</g>
<g stroke="#000" stroke-width="4.2" stroke-linecap="butt">
<line x1="390" y1="605.9" x2="390" y2="3326.1" stroke="#000" stroke-width="4.2" />
<line x1="2131" y1="605.9" x2="2131" y2="3326.1" stroke="#000" stroke-width="4.2" />
<line x1="390" y1="608" x2="1132" y2="608" stroke="#000" stroke-width="4.2" />
<line x1="1165" y1="608" x2="2131" y2="608" stroke="#000" stroke-width="4.2" />
<line x1="390" y1="1965" x2="1133" y2="1965" stroke="#000" stroke-width="4.2" />
<line x1="1163.5" y1="1965" x2="2131" y2="1965" stroke="#000" stroke-width="4.2" />
<line x1="390" y1="3324" x2="1123.5" y2="3324" stroke="#000" stroke-width="4.2" />
<line x1="1154.6" y1="3324" x2="2131" y2="3324" stroke="#000" stroke-width="4.2" />
<line x1="1117.9" y1="631.5" x2="1145" y2="591.2" stroke="#000" stroke-width="4.2" />
<line x1="1147" y1="631.5" x2="1174.1" y2="591.2" stroke="#000" stroke-width="4.2" />
<line x1="1117.9" y1="1988.5" x2="1149.3" y2="1940.5" stroke="#000" stroke-width="4.2" />
<line x1="1147" y1="1988.5" x2="1178.4" y2="1940.5" stroke="#000" stroke-width="4.2" />
<line x1="1108.2" y1="3347.3" x2="1139.2" y2="3299.7" stroke="#000" stroke-width="4.2" />
<line x1="1139" y1="3347.3" x2="1170" y2="3299.7" stroke="#000" stroke-width="4.2" />
<line x1="476.8" y1="608" x2="476.8" y2="631" stroke="#000" stroke-width="4.2" />
<line x1="476.8" y1="1965" x2="476.8" y2="1942" stroke="#000" stroke-width="4.2" />
<line x1="563.1" y1="608" x2="563.1" y2="619.5" stroke="#000" stroke-width="4.2" />
<line x1="563.1" y1="1965" x2="563.1" y2="1953.5" stroke="#000" stroke-width="4.2" />
<line x1="649.4" y1="608" x2="649.4" y2="631" stroke="#000" stroke-width="4.2" />
<line x1="649.4" y1="1965" x2="649.4" y2="1942" stroke="#000" stroke-width="4.2" />
<line x1="735.7" y1="608" x2="735.7" y2="619.5" stroke="#000" stroke-width="4.2" />
<line x1="735.7" y1="1965" x2="735.7" y2="1953.5" stroke="#000" stroke-width="4.2" />
<line x1="822" y1="608" x2="822" y2="631" stroke="#000" stroke-width="4.2" />
<line x1="822" y1="1965" x2="822" y2="1942" stroke="#000" stroke-width="4.2" />
<line x1="908.4" y1="608" x2="908.4" y2="619.5" stroke="#000" stroke-width="4.2" />
<line x1="908.4" y1="1965" x2="908.4" y2="1953.5" stroke="#000" stroke-width="4.2" />
<line x1="994.7" y1="608" x2="994.7" y2="631" stroke="#000" stroke-width="4.2" />
<line x1="994.7" y1="1965" x2="994.7" y2="1942" stroke="#000" stroke-width="4.2" />
<line x1="1081" y1="608" x2="1081" y2="619.5" stroke="#000" stroke-width="4.2" />
<line x1="1081" y1="1965" x2="1081" y2="1953.5" stroke="#000" stroke-width="4.2" />
<line x1="1180.4" y1="608" x2="1180.4" y2="619.5" stroke="#000" stroke-width="4.2" />
<line x1="1180.4" y1="1965" x2="1180.4" y2="1953.5" stroke="#000" stroke-width="4.2" />
<line x1="1266.8" y1="608" x2="1266.8" y2="631" stroke="#000" stroke-width="4.2" />
<line x1="1266.8" y1="1965" x2="1266.8" y2="1942" stroke="#000" stroke-width="4.2" />
<line x1="1353.2" y1="608" x2="1353.2" y2="619.5" stroke="#000" stroke-width="4.2" />
<line x1="1353.2" y1="1965" x2="1353.2" y2="1953.5" stroke="#000" stroke-width="4.2" />
<line x1="1439.6" y1="608" x2="1439.6" y2="631" stroke="#000" stroke-width="4.2" />
<line x1="1439.6" y1="1965" x2="1439.6" y2="1942" stroke="#000" stroke-width="4.2" />
<line x1="1526" y1="608" x2="1526" y2="619.5" stroke="#000" stroke-width="4.2" />
<line x1="1526" y1="1965" x2="1526" y2="1953.5" stroke="#000" stroke-width="4.2" />
<line x1="1612.4" y1="608" x2="1612.4" y2="631" stroke="#000" stroke-width="4.2" />
<line x1="1612.4" y1="1965" x2="1612.4" y2="1942" stroke="#000" stroke-width="4.2" />
<line x1="1698.8" y1="608" x2="1698.8" y2="619.5" stroke="#000" stroke-width="4.2" />
<line x1="1698.8" y1="1965" x2="1698.8" y2="1953.5" stroke="#000" stroke-width="4.2" />
<line x1="1785.2" y1="608" x2="1785.2" y2="631" stroke="#000" stroke-width="4.2" />
<line x1="1785.2" y1="1965" x2="1785.2" y2="1942" stroke="#000" stroke-width="4.2" />
<line x1="1871.6" y1="608" x2="1871.6" y2="619.5" stroke="#000" stroke-width="4.2" />
<line x1="1871.6" y1="1965" x2="1871.6" y2="1953.5" stroke="#000" stroke-width="4.2" />
<line x1="1958" y1="608" x2="1958" y2="631" stroke="#000" stroke-width="4.2" />
<line x1="1958" y1="1965" x2="1958" y2="1942" stroke="#000" stroke-width="4.2" />
<line x1="2044.4" y1="608" x2="2044.4" y2="619.5" stroke="#000" stroke-width="4.2" />
<line x1="2044.4" y1="1965" x2="2044.4" y2="1953.5" stroke="#000" stroke-width="4.2" />
<line x1="475.8" y1="3324" x2="475.8" y2="3301" stroke="#000" stroke-width="4.2" />
<line x1="560.9" y1="3324" x2="560.9" y2="3312.5" stroke="#000" stroke-width="4.2" />
<line x1="646.1" y1="3324" x2="646.1" y2="3301" stroke="#000" stroke-width="4.2" />
<line x1="731.3" y1="3324" x2="731.3" y2="3312.5" stroke="#000" stroke-width="4.2" />
<line x1="816.5" y1="3324" x2="816.5" y2="3301" stroke="#000" stroke-width="4.2" />
<line x1="901.6" y1="3324" x2="901.6" y2="3312.5" stroke="#000" stroke-width="4.2" />
<line x1="986.8" y1="3324" x2="986.8" y2="3301" stroke="#000" stroke-width="4.2" />
<line x1="1072" y1="3324" x2="1072" y2="3312.5" stroke="#000" stroke-width="4.2" />
<line x1="1170.9" y1="3324" x2="1170.9" y2="3312.5" stroke="#000" stroke-width="4.2" />
<line x1="1258.1" y1="3324" x2="1258.1" y2="3301" stroke="#000" stroke-width="4.2" />
<line x1="1345.3" y1="3324" x2="1345.3" y2="3312.5" stroke="#000" stroke-width="4.2" />
<line x1="1432.5" y1="3324" x2="1432.5" y2="3301" stroke="#000" stroke-width="4.2" />
<line x1="1519.8" y1="3324" x2="1519.8" y2="3312.5" stroke="#000" stroke-width="4.2" />
<line x1="1607" y1="3324" x2="1607" y2="3301" stroke="#000" stroke-width="4.2" />
<line x1="1694.2" y1="3324" x2="1694.2" y2="3312.5" stroke="#000" stroke-width="4.2" />
<line x1="1781.4" y1="3324" x2="1781.4" y2="3301" stroke="#000" stroke-width="4.2" />
<line x1="1868.7" y1="3324" x2="1868.7" y2="3312.5" stroke="#000" stroke-width="4.2" />
<line x1="1955.9" y1="3324" x2="1955.9" y2="3301" stroke="#000" stroke-width="4.2" />
<line x1="2043.1" y1="3324" x2="2043.1" y2="3312.5" stroke="#000" stroke-width="4.2" />
<line x1="390" y1="1953.5" x2="413" y2="1953.5" stroke="#000" stroke-width="4.2" />
<line x1="2131" y1="1953.5" x2="2108" y2="1953.5" stroke="#000" stroke-width="4.2" />
<line x1="390" y1="1841.5" x2="401.5" y2="1841.5" stroke="#000" stroke-width="4.2" />
<line x1="2131" y1="1841.5" x2="2119.5" y2="1841.5" stroke="#000" stroke-width="4.2" />
<line x1="390" y1="1729.4" x2="413" y2="1729.4" stroke="#000" stroke-width="4.2" />
<line x1="2131" y1="1729.4" x2="2108" y2="1729.4" stroke="#000" stroke-width="4.2" />
<line x1="390" y1="1617.3" x2="401.5" y2="1617.3" stroke="#000" stroke-width="4.2" />
<line x1="2131" y1="1617.3" x2="2119.5" y2="1617.3" stroke="#000" stroke-width="4.2" />
<line x1="390" y1="1505.3" x2="413" y2="1505.3" stroke="#000" stroke-width="4.2" />
<line x1="2131" y1="1505.3" x2="2108" y2="1505.3" stroke="#000" stroke-width="4.2" />
<line x1="390" y1="1393.2" x2="401.5" y2="1393.2" stroke="#000" stroke-width="4.2" />
<line x1="2131" y1="1393.2" x2="2119.5" y2="1393.2" stroke="#000" stroke-width="4.2" />
<line x1="390" y1="1281.2" x2="413" y2="1281.2" stroke="#000" stroke-width="4.2" />
<line x1="2131" y1="1281.2" x2="2108" y2="1281.2" stroke="#000" stroke-width="4.2" />
<line x1="390" y1="1169.2" x2="401.5" y2="1169.2" stroke="#000" stroke-width="4.2" />
<line x1="2131" y1="1169.2" x2="2119.5" y2="1169.2" stroke="#000" stroke-width="4.2" />
<line x1="390" y1="1057.1" x2="413" y2="1057.1" stroke="#000" stroke-width="4.2" />
<line x1="2131" y1="1057.1" x2="2108" y2="1057.1" stroke="#000" stroke-width="4.2" />
<line x1="390" y1="945" x2="401.5" y2="945" stroke="#000" stroke-width="4.2" />
<line x1="2131" y1="945" x2="2119.5" y2="945" stroke="#000" stroke-width="4.2" />
<line x1="390" y1="833" x2="413" y2="833" stroke="#000" stroke-width="4.2" />
<line x1="2131" y1="833" x2="2108" y2="833" stroke="#000" stroke-width="4.2" />
<line x1="390" y1="720.9" x2="401.5" y2="720.9" stroke="#000" stroke-width="4.2" />
<line x1="2131" y1="720.9" x2="2119.5" y2="720.9" stroke="#000" stroke-width="4.2" />
<line x1="390" y1="3312" x2="413" y2="3312" stroke="#000" stroke-width="4.2" />
<line x1="2131" y1="3312" x2="2108" y2="3312" stroke="#000" stroke-width="4.2" />
<line x1="390" y1="3199.7" x2="401.5" y2="3199.7" stroke="#000" stroke-width="4.2" />
<line x1="2131" y1="3199.7" x2="2119.5" y2="3199.7" stroke="#000" stroke-width="4.2" />
<line x1="390" y1="3087.4" x2="413" y2="3087.4" stroke="#000" stroke-width="4.2" />
<line x1="2131" y1="3087.4" x2="2108" y2="3087.4" stroke="#000" stroke-width="4.2" />
<line x1="390" y1="2975.1" x2="401.5" y2="2975.1" stroke="#000" stroke-width="4.2" />
<line x1="2131" y1="2975.1" x2="2119.5" y2="2975.1" stroke="#000" stroke-width="4.2" />
<line x1="390" y1="2862.8" x2="413" y2="2862.8" stroke="#000" stroke-width="4.2" />
<line x1="2131" y1="2862.8" x2="2108" y2="2862.8" stroke="#000" stroke-width="4.2" />
<line x1="390" y1="2750.5" x2="401.5" y2="2750.5" stroke="#000" stroke-width="4.2" />
<line x1="2131" y1="2750.5" x2="2119.5" y2="2750.5" stroke="#000" stroke-width="4.2" />
<line x1="390" y1="2638.2" x2="413" y2="2638.2" stroke="#000" stroke-width="4.2" />
<line x1="2131" y1="2638.2" x2="2108" y2="2638.2" stroke="#000" stroke-width="4.2" />
<line x1="390" y1="2525.9" x2="401.5" y2="2525.9" stroke="#000" stroke-width="4.2" />
<line x1="2131" y1="2525.9" x2="2119.5" y2="2525.9" stroke="#000" stroke-width="4.2" />
<line x1="390" y1="2413.6" x2="413" y2="2413.6" stroke="#000" stroke-width="4.2" />
<line x1="2131" y1="2413.6" x2="2108" y2="2413.6" stroke="#000" stroke-width="4.2" />
<line x1="390" y1="2301.3" x2="401.5" y2="2301.3" stroke="#000" stroke-width="4.2" />
<line x1="2131" y1="2301.3" x2="2119.5" y2="2301.3" stroke="#000" stroke-width="4.2" />
<line x1="390" y1="2189" x2="413" y2="2189" stroke="#000" stroke-width="4.2" />
<line x1="2131" y1="2189" x2="2108" y2="2189" stroke="#000" stroke-width="4.2" />
<line x1="390" y1="2076.7" x2="401.5" y2="2076.7" stroke="#000" stroke-width="4.2" />
<line x1="2131" y1="2076.7" x2="2119.5" y2="2076.7" stroke="#000" stroke-width="4.2" />
</g>
<g clip-path="url(#pa)" fill="none" stroke-linejoin="round">
<path d="M390,1953.3 394,1953.2 397.9,1953.1 401.9,1953 405.9,1953 409.9,1953 413.9,1953 417.9,1953 422,1953.1 426,1953.2 430,1953.2 434.1,1953.3 438.1,1953.4 442.1,1953.4 446.2,1953.4 450.2,1953.5 454.2,1953.4 458.3,1953.4 462.3,1953.3 466.3,1953.1 470.3,1952.9 474.3,1952.7 478.2,1952.4 482.2,1952 486.1,1951.6 490,1951 493.9,1950.4 497.8,1949.7 501.7,1948.9 505.5,1948 509.3,1947 513.1,1945.9 516.9,1944.7 520.6,1943.4 524.4,1942 528.1,1940.6 531.8,1939 535.6,1937.5 539.3,1935.9 543.1,1934.2 546.8,1932.6 550.7,1930.9 554.5,1929.3 558.4,1927.8 562.2,1926.5 566,1925.6 569.8,1925.3 573.4,1925.7 577,1926.5 580.5,1927.9 584,1929.5 587.4,1931.5 590.9,1933.6 594.5,1935.8 598.1,1937.9 601.7,1940 605.5,1942 609.4,1943.6 613.3,1945.1 617.3,1946.3 621.4,1947.2 625.4,1947.8 629.5,1948.1 633.5,1948.2 637.5,1947.9 641.3,1947.4 645.1,1946.5 648.8,1945.3 652.3,1943.7 655.6,1941.9 658.8,1939.7 661.8,1937.2 664.7,1934.6 667.5,1931.7 670.2,1928.7 672.9,1925.5 675.5,1922.3 678,1919 680.5,1915.8 683,1912.5 685.6,1909.3 688.1,1906.1 690.5,1903 693,1899.8 695.5,1896.7 698,1893.6 700.5,1890.5 702.9,1887.4 705.4,1884.3 707.8,1881.2 710.3,1878.1 712.7,1875 715.2,1871.9 717.6,1868.7 720,1865.5 722.4,1862.3 724.8,1859.1 727.1,1855.9 729.4,1852.6 731.6,1849.3 733.8,1845.9 735.9,1842.6 738,1839.2 740,1835.7 741.9,1832.2 743.7,1828.7 745.5,1825.1 747.2,1821.5 748.8,1817.9 750.3,1814.2 751.8,1810.5 753.2,1806.8 754.5,1803 755.8,1799.3 757,1795.5 758.2,1791.6 759.3,1787.8 760.4,1783.9 761.4,1780 762.4,1776.1 763.3,1772.2 764.2,1768.2 765.1,1764.3 765.9,1760.3 766.7,1756.3 767.4,1752.4 768.2,1748.4 768.9,1744.4 769.6,1740.4 770.2,1736.4 770.9,1732.4 771.5,1728.4 772.2,1724.4 772.8,1720.5 773.4,1716.5 774,1712.5 774.6,1708.5 775.1,1704.6 775.7,1700.6 776.3,1696.6 776.8,1692.7 777.4,1688.7 777.9,1684.7 778.5,1680.8 779,1676.8 779.5,1672.9 780,1668.9 780.6,1664.9 781.1,1661 781.6,1657 782.1,1653.1 782.6,1649.1 783.1,1645.2 783.7,1641.2 784.2,1637.2 784.7,1633.3 785.2,1629.3 785.7,1625.4 786.3,1621.4 786.8,1617.4 787.3,1613.5 787.8,1609.5 788.4,1605.6 788.9,1601.6 789.4,1597.6 790,1593.7 790.5,1589.7 791,1585.7 791.5,1581.8 792.1,1577.8 792.6,1573.8 793.1,1569.9 793.7,1565.9 794.2,1561.9 794.7,1557.9 795.3,1554 795.8,1550 796.3,1546 796.9,1542.1 797.4,1538.1 797.9,1534.1 798.5,1530.1 799,1526.2 799.5,1522.2 800.1,1518.2 800.6,1514.2 801.1,1510.3 801.7,1506.3 802.2,1502.3 802.7,1498.3 803.2,1494.4 803.8,1490.4 804.3,1486.4 804.8,1482.4 805.4,1478.5 805.9,1474.5 806.4,1470.5 806.9,1466.5 807.5,1462.6 808,1458.6 808.5,1454.6 809,1450.6 809.5,1446.6 810.1,1442.7 810.6,1438.7 811.1,1434.7 811.6,1430.7 812.1,1426.8 812.6,1422.8 813.1,1418.8 813.7,1414.8 814.2,1410.8 814.7,1406.9 815.2,1402.9 815.7,1398.9 816.2,1394.9 816.7,1391 817.2,1387 817.7,1383 818.2,1379 818.6,1375.1 819.1,1371.1 819.6,1367.1 820.1,1363.1 820.6,1359.1 821.1,1355.2 821.6,1351.2 822,1347.2 822.5,1343.2 823,1339.3 823.4,1335.3 823.9,1331.3 824.4,1327.3 824.8,1323.3 825.3,1319.4 825.8,1315.4 826.2,1311.4 826.7,1307.4 827.1,1303.5 827.6,1299.5 828,1295.5 828.4,1291.5 828.9,1287.5 829.3,1283.6 829.7,1279.6 830.2,1275.6 830.6,1271.6 831,1267.6 831.4,1263.6 831.8,1259.7 832.3,1255.7 832.7,1251.7 833.1,1247.7 833.5,1243.7 833.9,1239.7 834.3,1235.8 834.6,1231.8 835,1227.8 835.4,1223.8 835.8,1219.8 836.2,1215.8 836.5,1211.9 836.9,1207.9 837.3,1203.9 837.6,1199.9 838,1195.9 838.3,1191.9 838.7,1187.9 839,1183.9 839.4,1179.9 839.7,1176 840,1172 840.4,1168 840.7,1164 841,1160 841.3,1156 841.6,1152 842,1148 842.3,1144 842.6,1140 842.9,1136 843.2,1132 843.5,1128 843.9,1124 844.2,1120.1 844.5,1116.1 844.8,1112.1 845.1,1108.1 845.4,1104.1 845.8,1100.1 846.1,1096.1 846.4,1092.1 846.7,1088.1 847.1,1084.1 847.4,1080.1 847.8,1076.1 848.1,1072.1 848.4,1068.1 848.8,1064.1 849.2,1060.1 849.5,1056.1 849.9,1052.1 850.3,1048.1 850.6,1044.2 851,1040.2 851.4,1036.2 851.8,1032.2 852.2,1028.2 852.6,1024.2 853.1,1020.2 853.5,1016.2 853.9,1012.2 854.4,1008.2 854.8,1004.2 855.3,1000.2 855.7,996.2 856.2,992.3 856.7,988.3 857.2,984.3 857.7,980.3 858.2,976.3 858.7,972.3 859.3,968.4 859.8,964.4 860.3,960.4 860.9,956.4 861.4,952.5 862,948.5 862.6,944.5 863.1,940.6 863.7,936.6 864.3,932.7 864.9,928.7 865.5,924.8 866.1,920.8 866.7,916.9 867.3,913 867.9,909.1 868.5,905.1 869.1,901.2 869.7,897.3 870.4,893.4 871,889.5 871.7,885.6 872.3,881.7 873,877.9 873.8,874 874.6,870.1 875.4,866.2 876.3,862.4 877.4,858.5 878.6,854.6 880.2,850.6 882,846.6 884.2,842.6 886.8,838.6 889.6,835.3 892.6,832.9 895.7,832 898.8,832.8 901.8,835.1 904.7,838.4 907.3,842.3 909.5,846.4 911.3,850.4 912.8,854.3 914.1,858.2 915.1,862 916,865.9 916.9,869.7 917.6,873.6 918.4,877.4 919.1,881.3 919.8,885.2 920.5,889.1 921.1,893 921.8,897 922.4,900.9 923,904.8 923.5,908.8 924.1,912.7 924.6,916.7 925.1,920.7 925.7,924.6 926.2,928.6 926.7,932.6 927.1,936.6 927.6,940.6 928.1,944.5 928.6,948.5 929,952.5 929.5,956.5 929.9,960.5 930.4,964.4 930.8,968.4 931.2,972.4 931.7,976.4 932.1,980.4 932.5,984.4 932.9,988.3 933.3,992.3 933.7,996.3 934.1,1000.3 934.5,1004.3 934.9,1008.3 935.3,1012.3 935.6,1016.2 936,1020.2 936.4,1024.2 936.8,1028.2 937.1,1032.2 937.5,1036.2 937.8,1040.2 938.2,1044.2 938.5,1048.2 938.9,1052.2 939.2,1056.2 939.6,1060.2 939.9,1064.1 940.2,1068.1 940.6,1072.1 940.9,1076.1 941.2,1080.1 941.5,1084.1 941.9,1088.1 942.2,1092.1 942.5,1096.1 942.8,1100.1 943.2,1104.1 943.5,1108.1 943.8,1112.1 944.1,1116.1 944.4,1120.1 944.7,1124.1 945.1,1128.1 945.4,1132 945.7,1136 946,1140 946.3,1144 946.6,1148 947,1152 947.3,1156 947.6,1160 947.9,1164 948.2,1168 948.6,1172 948.9,1176 949.2,1180 949.5,1184 949.9,1188 950.2,1192 950.5,1196 950.9,1199.9 951.2,1203.9 951.5,1207.9 951.9,1211.9 952.2,1215.9 952.6,1219.9 952.9,1223.9 953.3,1227.9 953.6,1231.9 954,1235.9 954.3,1239.9 954.7,1243.9 955.1,1247.8 955.5,1251.8 955.8,1255.8 956.2,1259.8 956.6,1263.8 957,1267.8 957.4,1271.8 957.8,1275.8 958.2,1279.7 958.6,1283.7 959.1,1287.7 959.5,1291.7 959.9,1295.7 960.3,1299.7 960.8,1303.6 961.2,1307.6 961.7,1311.6 962.1,1315.6 962.6,1319.6 963.1,1323.5 963.6,1327.5 964,1331.5 964.5,1335.5 965,1339.4 965.5,1343.4 966.1,1347.4 966.6,1351.4 967.1,1355.3 967.7,1359.3 968.2,1363.3 968.7,1367.2 969.3,1371.2 969.9,1375.2 970.4,1379.2 971,1383.1 971.6,1387.1 972.2,1391.1 972.8,1395 973.4,1399 974,1402.9 974.6,1406.9 975.2,1410.9 975.8,1414.8 976.4,1418.8 977,1422.8 977.6,1426.7 978.2,1430.7 978.8,1434.7 979.4,1438.6 980,1442.6 980.6,1446.5 981.2,1450.5 981.8,1454.5 982.4,1458.4 983,1462.4 983.5,1466.4 984.1,1470.3 984.7,1474.3 985.3,1478.2 985.9,1482.2 986.4,1486.2 987,1490.1 987.6,1494.1 988.2,1498 988.8,1502 989.4,1506 990,1509.9 990.6,1513.9 991.3,1517.8 991.9,1521.7 992.6,1525.7 993.3,1529.6 994,1533.5 994.7,1537.5 995.5,1541.4 996.3,1545.3 997.1,1549.2 997.9,1553.1 998.8,1557 999.7,1560.9 1000.6,1564.8 1001.5,1568.7 1002.5,1572.6 1003.5,1576.5 1004.5,1580.3 1005.6,1584.2 1006.6,1588.1 1007.7,1591.9 1008.7,1595.8 1009.8,1599.6 1011,1603.5 1012.1,1607.3 1013.2,1611.2 1014.3,1615 1015.5,1618.9 1016.6,1622.7 1017.8,1626.6 1018.9,1630.4 1020.1,1634.3 1021.2,1638.1 1022.4,1641.9 1023.5,1645.8 1024.6,1649.6 1025.8,1653.5 1026.9,1657.3 1028,1661.2 1029.1,1665.1 1030.2,1668.9 1031.2,1672.8 1032.3,1676.6 1033.3,1680.5 1034.3,1684.4 1035.3,1688.3 1036.3,1692.2 1037.3,1696 1038.2,1699.9 1039.1,1703.8 1040,1707.7 1040.8,1711.6 1041.7,1715.6 1042.5,1719.5 1043.3,1723.4 1044.1,1727.3 1044.9,1731.2 1045.6,1735.2 1046.4,1739.1 1047.1,1743 1047.9,1747 1048.6,1750.9 1049.3,1754.8 1050.1,1758.8 1050.8,1762.7 1051.5,1766.6 1052.2,1770.6 1052.9,1774.5 1053.7,1778.5 1054.4,1782.4 1055.1,1786.3 1055.8,1790.3 1056.6,1794.2 1057.3,1798.1 1058.1,1802.1 1058.9,1806 1059.7,1809.9 1060.5,1813.9 1061.3,1817.8 1062.1,1821.7 1063,1825.6 1063.9,1829.5 1064.7,1833.4 1065.7,1837.3 1066.6,1841.2 1067.6,1845.1 1068.6,1849 1069.6,1852.9 1070.6,1856.8 1071.7,1860.6 1072.8,1864.5 1073.9,1868.4 1075.1,1872.2 1076.3,1876 1077.6,1879.9 1078.9,1883.7 1080.2,1887.5 1081.6,1891.3 1083,1895.2 1084.4,1898.9 1085.9,1902.7 1087.5,1906.5 1089.1,1910.2 1090.8,1913.9 1092.6,1917.5 1094.5,1921 1096.5,1924.4 1098.7,1927.7 1101,1930.8 1103.4,1933.8 1106.1,1936.5 1109,1939.1 1112,1941.4 1115.3,1943.5 1118.8,1945.3 1122.6,1946.9 1126.7,1948.1 1131,1949" stroke="#990000" stroke-width="9.4"/>
<line x1="1163" y1="1954.3" x2="2131" y2="1954.3" stroke="#990000" stroke-width="9.4"/>
<path d="M1163,1953.3 1167,1953.3 1171.1,1953.3 1175.1,1953.3 1179.1,1953.3 1183.1,1953.3 1187.1,1953.3 1191.1,1953.3 1195.1,1953.3 1199.1,1953.2 1203,1953.2 1207,1953.2 1211,1953.2 1215,1953.1 1219,1953.1 1223,1953.1 1227.1,1953.1 1231.1,1953 1235.1,1953 1239.2,1952.9 1243.2,1952.8 1247.2,1952.6 1251.2,1952.3 1255.2,1952 1259.2,1951.4 1263,1950.8 1266.9,1950 1270.7,1948.9 1274.4,1947.7 1278.1,1946.3 1281.6,1944.6 1285.1,1942.8 1288.6,1940.7 1291.9,1938.4 1295.2,1936 1298.4,1933.5 1301.5,1930.8 1304.5,1927.9 1307.4,1925 1310.2,1922 1313,1918.9 1315.7,1915.8 1318.3,1912.6 1320.8,1909.4 1323.2,1906.2 1325.5,1902.9 1327.9,1899.8 1330.3,1896.6 1332.8,1893.5 1335.4,1890.5 1338.1,1887.6 1341,1884.8 1344.2,1882.2 1347.6,1879.7 1351.2,1877.4 1355,1875.5 1358.8,1873.9 1362.6,1872.8 1366.5,1872.2 1370.2,1872.2 1373.9,1872.7 1377.5,1873.7 1381,1875.1 1384.4,1876.9 1387.9,1879 1391.3,1881.3 1394.6,1883.8 1398,1886.3 1401.4,1889 1404.8,1891.5 1408.2,1894 1411.6,1896.4 1415.1,1898.5 1418.6,1900.4 1422.2,1901.9 1425.8,1903.2 1429.5,1904.1 1433.3,1904.7 1437.1,1905.1 1440.9,1905.3 1444.8,1905.1 1448.7,1904.8 1452.7,1904.2 1456.7,1903.4 1460.7,1902.5 1464.8,1901.4 1468.8,1900.2 1472.9,1898.9 1477,1897.7 1481,1896.5 1485.1,1895.4 1489.1,1894.4 1493,1893.7 1497,1893.2 1500.8,1893 1504.6,1893.1 1508.4,1893.6 1512.1,1894.5 1515.7,1895.7 1519.3,1897.1 1522.8,1898.8 1526.3,1900.7 1529.7,1902.8 1533.1,1905 1536.5,1907.4 1539.9,1909.8 1543.2,1912.3 1546.5,1914.8 1549.8,1917.3 1553.1,1919.8 1556.4,1922.2 1559.7,1924.5 1563,1926.8 1566.3,1929 1569.6,1931.2 1573,1933.2 1576.3,1935.2 1579.7,1937.1 1583.2,1938.9 1586.7,1940.7 1590.2,1942.3 1593.8,1943.8 1597.4,1945.2 1601.2,1946.4 1604.9,1947.6 1608.8,1948.6 1612.7,1949.5 1616.7,1950.3 1620.8,1950.9 1625,1951.3 1629.3,1951.6 1633.6,1951.7 1637.8,1951.5 1642,1951.1 1646,1950.3 1649.9,1949.1 1653.5,1947.6 1657,1945.7 1660.2,1943.4 1663.2,1940.9 1666,1938.2 1668.7,1935.3 1671.3,1932.3 1673.6,1929.2 1675.9,1926 1678,1922.7 1680,1919.4 1681.9,1915.9 1683.7,1912.4 1685.4,1908.8 1687,1905.1 1688.4,1901.4 1689.8,1897.6 1691.1,1893.8 1692.4,1890 1693.5,1886.1 1694.6,1882.1 1695.6,1878.2 1696.6,1874.2 1697.5,1870.2 1698.4,1866.3 1699.3,1862.3 1700.1,1858.3 1700.9,1854.3 1701.6,1850.3 1702.3,1846.3 1703,1842.3 1703.7,1838.4 1704.3,1834.4 1704.9,1830.4 1705.5,1826.4 1706.1,1822.4 1706.6,1818.4 1707.1,1814.5 1707.6,1810.5 1708.1,1806.5 1708.6,1802.5 1709,1798.5 1709.4,1794.5 1709.9,1790.6 1710.3,1786.6 1710.7,1782.6 1711,1778.6 1711.4,1774.6 1711.8,1770.7 1712.1,1766.7 1712.5,1762.7 1712.8,1758.7 1713.2,1754.7 1713.5,1750.7 1713.8,1746.8 1714.2,1742.8 1714.5,1738.8 1714.8,1734.8 1715.2,1730.8 1715.5,1726.8 1715.8,1722.8 1716.2,1718.9 1716.5,1714.9 1716.8,1710.9 1717.1,1706.9 1717.5,1702.9 1717.8,1698.9 1718.1,1694.9 1718.4,1691 1718.8,1687 1719.1,1683 1719.4,1679 1719.7,1675 1720,1671 1720.3,1667 1720.7,1663 1721,1659 1721.3,1655.1 1721.6,1651.1 1721.9,1647.1 1722.2,1643.1 1722.5,1639.1 1722.8,1635.1 1723.1,1631.1 1723.5,1627.1 1723.8,1623.1 1724.1,1619.1 1724.4,1615.1 1724.7,1611.1 1725,1607.2 1725.3,1603.2 1725.6,1599.2 1725.9,1595.2 1726.2,1591.2 1726.5,1587.2 1726.8,1583.2 1727.1,1579.2 1727.4,1575.2 1727.7,1571.2 1727.9,1567.2 1728.2,1563.2 1728.5,1559.2 1728.8,1555.2 1729.1,1551.2 1729.4,1547.2 1729.7,1543.2 1730,1539.2 1730.3,1535.2 1730.5,1531.3 1730.8,1527.3 1731.1,1523.3 1731.4,1519.3 1731.7,1515.3 1732,1511.3 1732.2,1507.3 1732.5,1503.3 1732.8,1499.3 1733.1,1495.3 1733.4,1491.3 1733.6,1487.3 1733.9,1483.3 1734.2,1479.3 1734.5,1475.3 1734.7,1471.3 1735,1467.3 1735.3,1463.3 1735.5,1459.3 1735.8,1455.3 1736.1,1451.3 1736.4,1447.3 1736.6,1443.3 1736.9,1439.3 1737.2,1435.3 1737.4,1431.3 1737.7,1427.3 1737.9,1423.3 1738.2,1419.3 1738.5,1415.3 1738.7,1411.3 1739,1407.3 1739.3,1403.3 1739.5,1399.3 1739.8,1395.3 1740,1391.3 1740.3,1387.3 1740.5,1383.3 1740.8,1379.3 1741.1,1375.3 1741.3,1371.3 1741.6,1367.3 1741.8,1363.3 1742.1,1359.3 1742.3,1355.3 1742.6,1351.3 1742.8,1347.3 1743.1,1343.3 1743.3,1339.3 1743.6,1335.2 1743.8,1331.2 1744.1,1327.2 1744.3,1323.2 1744.5,1319.2 1744.8,1315.2 1745,1311.2 1745.3,1307.2 1745.5,1303.2 1745.8,1299.2 1746,1295.2 1746.2,1291.2 1746.5,1287.2 1746.7,1283.2 1747,1279.2 1747.2,1275.2 1747.4,1271.2 1747.7,1267.2 1747.9,1263.2 1748.2,1259.2 1748.4,1255.2 1748.6,1251.2 1748.9,1247.2 1749.1,1243.2 1749.3,1239.2 1749.6,1235.2 1749.8,1231.2 1750,1227.2 1750.3,1223.2 1750.5,1219.2 1750.7,1215.2 1750.9,1211.2 1751.2,1207.2 1751.4,1203.2 1751.6,1199.2 1751.8,1195.2 1752.1,1191.2 1752.3,1187.2 1752.5,1183.2 1752.7,1179.2 1753,1175.2 1753.2,1171.2 1753.4,1167.2 1753.6,1163.2 1753.9,1159.2 1754.1,1155.2 1754.3,1151.2 1754.5,1147.2 1754.8,1143.2 1755,1139.2 1755.2,1135.2 1755.4,1131.2 1755.6,1127.2 1755.9,1123.2 1756.1,1119.1 1756.3,1115.1 1756.5,1111.1 1756.8,1107.2 1757,1103.2 1757.2,1099.2 1757.5,1095.2 1757.7,1091.2 1757.9,1087.2 1758.2,1083.2 1758.4,1079.2 1758.7,1075.2 1758.9,1071.2 1759.2,1067.2 1759.4,1063.2 1759.7,1059.2 1759.9,1055.2 1760.2,1051.2 1760.5,1047.2 1760.7,1043.2 1761,1039.2 1761.3,1035.2 1761.5,1031.2 1761.8,1027.2 1762.1,1023.2 1762.4,1019.2 1762.7,1015.2 1763,1011.2 1763.3,1007.2 1763.6,1003.2 1763.9,999.2 1764.2,995.2 1764.6,991.2 1764.9,987.3 1765.2,983.3 1765.6,979.3 1765.9,975.3 1766.3,971.3 1766.6,967.3 1767,963.3 1767.4,959.3 1767.7,955.3 1768.1,951.3 1768.5,947.4 1768.9,943.4 1769.3,939.4 1769.6,935.4 1770,931.5 1770.4,927.5 1770.8,923.5 1771.2,919.6 1771.5,915.7 1771.9,911.7 1772.3,907.8 1772.6,903.9 1772.9,900 1773.3,896.1 1773.6,892.2 1773.9,888.3 1774.2,884.4 1774.5,880.6 1774.8,876.7 1775.1,872.8 1775.5,868.7 1776,864.5 1776.7,860.1 1777.5,855.4 1778.6,850.4 1779.8,845.3 1781.2,840.5 1782.7,836.5 1784.3,833.5 1785.9,831.9 1787.5,832.2 1789,834.2 1790.5,837.5 1791.9,841.8 1793.1,846.7 1794.2,851.8 1795.2,856.8 1795.9,861.4 1796.5,865.8 1797.1,870 1797.5,874 1797.9,877.9 1798.2,881.8 1798.5,885.7 1798.9,889.6 1799.2,893.4 1799.6,897.3 1800,901.2 1800.3,905.1 1800.7,909 1801.1,912.9 1801.5,916.8 1801.8,920.7 1802.2,924.7 1802.6,928.6 1803,932.5 1803.4,936.5 1803.8,940.4 1804.2,944.3 1804.6,948.3 1805,952.2 1805.4,956.2 1805.8,960.2 1806.2,964.1 1806.6,968.1 1807,972.1 1807.4,976 1807.8,980 1808.2,984 1808.6,988 1809,992 1809.4,996 1809.8,999.9 1810.2,1003.9 1810.6,1007.9 1811,1011.9 1811.4,1015.9 1811.8,1019.9 1812.2,1023.9 1812.5,1027.9 1812.9,1031.9 1813.3,1035.9 1813.7,1039.9 1814,1044 1814.4,1048 1814.7,1052 1815.1,1056 1815.4,1060 1815.8,1064 1816.1,1068 1816.5,1072 1816.8,1076 1817.1,1080 1817.4,1084 1817.7,1088 1818,1092 1818.3,1096.1 1818.6,1100.1 1818.9,1104.1 1819.2,1108.1 1819.5,1112.1 1819.8,1116.1 1820,1120.1 1820.3,1124.1 1820.6,1128.1 1820.8,1132.1 1821.1,1136.1 1821.4,1140.1 1821.6,1144.1 1821.9,1148.1 1822.1,1152.1 1822.4,1156.1 1822.6,1160.1 1822.9,1164.1 1823.1,1168.2 1823.4,1172.2 1823.6,1176.2 1823.8,1180.2 1824.1,1184.2 1824.3,1188.2 1824.5,1192.2 1824.8,1196.2 1825,1200.2 1825.2,1204.2 1825.5,1208.2 1825.7,1212.2 1825.9,1216.2 1826.2,1220.2 1826.4,1224.2 1826.6,1228.2 1826.9,1232.2 1827.1,1236.2 1827.3,1240.2 1827.6,1244.2 1827.8,1248.2 1828,1252.2 1828.3,1256.2 1828.5,1260.2 1828.8,1264.2 1829,1268.2 1829.3,1272.2 1829.5,1276.1 1829.8,1280.1 1830,1284.1 1830.3,1288.1 1830.5,1292.1 1830.8,1296.1 1831.1,1300.1 1831.3,1304.1 1831.6,1308.1 1831.9,1312.1 1832.2,1316.1 1832.4,1320.1 1832.7,1324.1 1833,1328.1 1833.3,1332 1833.6,1336 1833.9,1340 1834.2,1344 1834.6,1348 1834.9,1352 1835.2,1356 1835.5,1360 1835.9,1364 1836.2,1367.9 1836.5,1371.9 1836.9,1375.9 1837.2,1379.9 1837.6,1383.9 1838,1387.9 1838.3,1391.9 1838.7,1395.8 1839.1,1399.8 1839.5,1403.8 1839.8,1407.8 1840.2,1411.8 1840.6,1415.8 1841,1419.7 1841.4,1423.7 1841.8,1427.7 1842.3,1431.7 1842.7,1435.7 1843.1,1439.7 1843.5,1443.6 1844,1447.6 1844.4,1451.6 1844.9,1455.6 1845.3,1459.6 1845.8,1463.5 1846.2,1467.5 1846.7,1471.5 1847.1,1475.5 1847.6,1479.5 1848.1,1483.4 1848.6,1487.4 1849.1,1491.4 1849.6,1495.4 1850.1,1499.4 1850.6,1503.3 1851.1,1507.3 1851.6,1511.3 1852.1,1515.3 1852.6,1519.2 1853.2,1523.2 1853.7,1527.2 1854.2,1531.2 1854.8,1535.2 1855.3,1539.1 1855.9,1543.1 1856.4,1547.1 1857,1551.1 1857.6,1555 1858.1,1559 1858.7,1563 1859.3,1567 1859.9,1570.9 1860.5,1574.9 1861.1,1578.9 1861.7,1582.9 1862.3,1586.9 1862.9,1590.8 1863.6,1594.8 1864.2,1598.8 1864.8,1602.7 1865.5,1606.7 1866.2,1610.7 1866.8,1614.6 1867.5,1618.6 1868.2,1622.6 1868.9,1626.5 1869.6,1630.5 1870.3,1634.4 1871.1,1638.4 1871.8,1642.3 1872.6,1646.3 1873.4,1650.2 1874.2,1654.1 1875,1658.1 1875.8,1662 1876.6,1665.9 1877.5,1669.8 1878.3,1673.7 1879.2,1677.6 1880.1,1681.5 1881,1685.4 1881.9,1689.3 1882.9,1693.2 1883.9,1697.1 1884.9,1701 1885.9,1704.8 1886.9,1708.7 1887.9,1712.5 1889,1716.4 1890.1,1720.2 1891.2,1724 1892.3,1727.8 1893.5,1731.7 1894.7,1735.5 1895.9,1739.2 1897.1,1743 1898.3,1746.8 1899.6,1750.6 1900.9,1754.3 1902.2,1758.1 1903.6,1761.8 1905,1765.5 1906.4,1769.3 1907.8,1773 1909.2,1776.7 1910.7,1780.3 1912.2,1784 1913.8,1787.7 1915.4,1791.3 1917,1795 1918.6,1798.6 1920.2,1802.2 1921.9,1805.8 1923.6,1809.5 1925.3,1813.1 1927.1,1816.6 1928.9,1820.2 1930.7,1823.8 1932.5,1827.4 1934.4,1831 1936.2,1834.5 1938.1,1838.1 1940,1841.7 1942,1845.2 1943.9,1848.8 1945.9,1852.3 1947.9,1855.9 1949.9,1859.5 1951.9,1863 1953.9,1866.6 1956,1870.2 1958.1,1873.7 1960.2,1877.3 1962.3,1880.8 1964.4,1884.3 1966.6,1887.8 1968.9,1891.3 1971.1,1894.7 1973.5,1898 1975.8,1901.3 1978.3,1904.5 1980.7,1907.6 1983.3,1910.7 1985.9,1913.7 1988.6,1916.5 1991.4,1919.3 1994.2,1922 1997.1,1924.5 2000.1,1926.9 2003.3,1929.2 2006.4,1931.4 2009.7,1933.4 2013.1,1935.3 2016.5,1937.1 2020,1938.7 2023.6,1940.3 2027.2,1941.8 2030.9,1943.1 2034.7,1944.3 2038.5,1945.5 2042.3,1946.6 2046.2,1947.5 2050.2,1948.4 2054.1,1949.2 2058.1,1949.9 2062.2,1950.6 2066.2,1951.1 2070.3,1951.6 2074.4,1952.1 2078.5,1952.5 2082.6,1952.8 2086.7,1953.1 2090.8,1953.3 2094.9,1953.5 2099,1953.6 2103.1,1953.7 2107.2,1953.8 2111.2,1953.8 2115.2,1953.8 2119.2,1953.8 2123.2,1953.7 2127.1,1953.7 2131,1953.6" stroke="#ff0000" stroke-width="9.4"/>
<path d="M1163.5,1953 1167.6,1952.7 1171.6,1952.4 1175.6,1951.9 1179.5,1951.3 1183.4,1950.6 1187.3,1949.8 1191.1,1948.8 1194.9,1947.8 1198.7,1946.6 1202.4,1945.3 1206.1,1944 1209.7,1942.5 1213.4,1940.8 1217,1939.1 1220.6,1937.3 1224.2,1935.3 1227.8,1933.2 1231.3,1931 1234.9,1928.8 1238.4,1926.5 1242,1924.2 1245.5,1922 1249.1,1920 1252.6,1918.2 1256.2,1916.6 1259.8,1915.4 1263.4,1914.6 1267,1914.2 1270.6,1914.3 1274.3,1914.9 1278,1915.9 1281.7,1917.3 1285.5,1919 1289.2,1920.8 1293,1922.8 1296.8,1924.8 1300.6,1926.7 1304.5,1928.5 1308.3,1930.2 1312.1,1931.6 1316,1932.6 1319.9,1933.3 1323.7,1933.6 1327.6,1933.7 1331.5,1933.5 1335.4,1933.1 1339.3,1932.6 1343.2,1931.9 1347.2,1931.1 1351.1,1930.2 1355.1,1929.3 1359.1,1928.4 1363.1,1927.6 1367.1,1926.8 1371.1,1926.1 1375.2,1925.5 1379.2,1925.1 1383.2,1924.8 1387.1,1924.6 1391.1,1924.7 1395,1925 1398.9,1925.6 1402.7,1926.4 1406.5,1927.5 1410.2,1929 1413.9,1930.6 1417.5,1932.5 1421.2,1934.5 1424.8,1936.5 1428.4,1938.5 1432.1,1940.3 1435.9,1942 1439.6,1943.5 1443.4,1944.8 1447.3,1946 1451.2,1947 1455.1,1947.9 1459,1948.7 1463,1949.3 1466.9,1949.9 1470.9,1950.3 1474.9,1950.8 1478.9,1951.1 1482.9,1951.4 1486.9,1951.7 1490.9,1951.9 1494.9,1952.1 1498.9,1952.3 1502.9,1952.5 1506.9,1952.6 1510.9,1952.8 1514.9,1952.9 1518.9,1952.9 1522.9,1953 1526.9,1953 1530.9,1953.1 1534.9,1953.1 1538.9,1953.1 1542.9,1953.1 1547,1953.1 1551,1953.1 1555,1953.1 1559,1953 1563,1953 1567,1953 1571,1952.9 1575,1952.9 1579.1,1952.9 1583.1,1952.8 1587.1,1952.8 1591.2,1952.8 1595.2,1952.8 1599.3,1952.8 1603.3,1952.8 1607.4,1952.8 1611.4,1952.7 1615.3,1952.5 1619.3,1952.2 1623.1,1951.6 1626.9,1950.8 1630.5,1949.7 1634.1,1948.3 1637.4,1946.5 1640.7,1944.3 1643.8,1941.7 1646.6,1938.8 1649.3,1935.6 1651.8,1932.2 1654,1928.7 1655.9,1925 1657.7,1921.3 1659.2,1917.6 1660.6,1913.7 1661.9,1909.9 1663,1906 1664,1902 1665,1898.1 1665.9,1894.2 1666.8,1890.3 1667.7,1886.3 1668.5,1882.4 1669.3,1878.5 1670,1874.5 1670.8,1870.6 1671.5,1866.6 1672.2,1862.7 1672.9,1858.7 1673.5,1854.8 1674.2,1850.8 1674.8,1846.9 1675.4,1842.9 1676,1839 1676.6,1835 1677.2,1831.1 1677.8,1827.1 1678.3,1823.1 1678.9,1819.2 1679.4,1815.2 1679.9,1811.2 1680.4,1807.3 1680.9,1803.3 1681.4,1799.3 1681.9,1795.4 1682.4,1791.4 1682.8,1787.4 1683.3,1783.4 1683.7,1779.5 1684.2,1775.5 1684.6,1771.5 1685,1767.5 1685.4,1763.5 1685.8,1759.5 1686.2,1755.5 1686.5,1751.6 1686.9,1747.6 1687.3,1743.6 1687.6,1739.6 1688,1735.6 1688.3,1731.6 1688.7,1727.6 1689,1723.6 1689.3,1719.6 1689.6,1715.6 1689.9,1711.6 1690.2,1707.6 1690.5,1703.6 1690.8,1699.6 1691.1,1695.6 1691.4,1691.6 1691.7,1687.6 1691.9,1683.6 1692.2,1679.6 1692.5,1675.6 1692.7,1671.6 1693,1667.6 1693.3,1663.6 1693.5,1659.6 1693.7,1655.6 1694,1651.6 1694.2,1647.6 1694.5,1643.6 1694.7,1639.6 1694.9,1635.5 1695.2,1631.5 1695.4,1627.5 1695.6,1623.5 1695.9,1619.5 1696.1,1615.5 1696.3,1611.5 1696.5,1607.5 1696.8,1603.5 1697,1599.5 1697.2,1595.5 1697.4,1591.5 1697.7,1587.5 1697.9,1583.4 1698.1,1579.4 1698.3,1575.4 1698.6,1571.4 1698.8,1567.4 1699,1563.4 1699.3,1559.4 1699.5,1555.4 1699.7,1551.4 1700,1547.4 1700.2,1543.4 1700.4,1539.4 1700.6,1535.4 1700.9,1531.4 1701.1,1527.4 1701.3,1523.4 1701.6,1519.4 1701.8,1515.4 1702,1511.4 1702.3,1507.4 1702.5,1503.3 1702.7,1499.3 1703,1495.3 1703.2,1491.3 1703.4,1487.3 1703.7,1483.3 1703.9,1479.3 1704.1,1475.3 1704.4,1471.3 1704.6,1467.3 1704.9,1463.3 1705.1,1459.3 1705.3,1455.3 1705.6,1451.3 1705.8,1447.3 1706,1443.3 1706.3,1439.3 1706.5,1435.3 1706.7,1431.3 1707,1427.3 1707.2,1423.3 1707.4,1419.3 1707.7,1415.3 1707.9,1411.3 1708.2,1407.3 1708.4,1403.3 1708.6,1399.3 1708.9,1395.3 1709.1,1391.3 1709.3,1387.3 1709.6,1383.3 1709.8,1379.3 1710,1375.3 1710.3,1371.3 1710.5,1367.3 1710.7,1363.3 1711,1359.3 1711.2,1355.3 1711.4,1351.3 1711.7,1347.3 1711.9,1343.3 1712.1,1339.3 1712.3,1335.3 1712.6,1331.3 1712.8,1327.3 1713,1323.3 1713.3,1319.3 1713.5,1315.3 1713.7,1311.3 1714,1307.3 1714.2,1303.2 1714.4,1299.2 1714.6,1295.2 1714.9,1291.2 1715.1,1287.2 1715.3,1283.2 1715.5,1279.2 1715.8,1275.2 1716,1271.2 1716.2,1267.2 1716.4,1263.2 1716.7,1259.2 1716.9,1255.2 1717.1,1251.2 1717.3,1247.2 1717.6,1243.2 1717.8,1239.2 1718,1235.2 1718.2,1231.2 1718.5,1227.2 1718.7,1223.2 1718.9,1219.2 1719.1,1215.2 1719.4,1211.2 1719.6,1207.2 1719.8,1203.2 1720,1199.2 1720.3,1195.2 1720.5,1191.2 1720.7,1187.2 1720.9,1183.2 1721.1,1179.1 1721.4,1175.1 1721.6,1171.1 1721.8,1167.1 1722,1163.1 1722.3,1159.1 1722.5,1155.1 1722.7,1151.1 1722.9,1147.1 1723.1,1143.1 1723.4,1139.1 1723.6,1135.1 1723.8,1131.1 1724,1127.1 1724.3,1123.1 1724.5,1119 1724.7,1115 1724.9,1111 1725.2,1107 1725.4,1103 1725.6,1099 1725.8,1095 1726.1,1091 1726.3,1087 1726.5,1083 1726.7,1079 1727,1074.9 1727.2,1070.9 1727.4,1066.9 1727.6,1062.9 1727.9,1058.9 1728.1,1054.9 1728.3,1050.9 1728.6,1046.9 1728.8,1042.9 1729,1038.8 1729.2,1034.8 1729.5,1030.8 1729.7,1026.8 1729.9,1022.8 1730.2,1018.8 1730.4,1014.8 1730.7,1010.8 1730.9,1006.8 1731.1,1002.8 1731.4,998.8 1731.6,994.8 1731.9,990.8 1732.1,986.8 1732.4,982.8 1732.6,978.8 1732.9,974.8 1733.1,970.9 1733.4,966.9 1733.7,962.9 1733.9,958.9 1734.2,954.9 1734.5,951 1734.7,947 1735,943 1735.3,939.1 1735.6,935.1 1735.9,931.2 1736.1,927.2 1736.4,923.3 1736.7,919.3 1737,915.4 1737.3,911.5 1737.7,907.5 1738,903.6 1738.3,899.7 1738.6,895.8 1738.9,891.9 1739.3,888 1739.6,884.1 1739.9,880.2 1740.3,876.2 1740.7,872.2 1741.2,868.1 1741.8,863.9 1742.6,859.4 1743.6,854.6 1744.8,849.5 1746.2,844.5 1747.7,839.8 1749.2,835.9 1750.8,833.2 1752.3,831.9 1753.7,832.4 1755,834.7 1756.1,838.2 1757.1,842.7 1758,847.7 1758.9,852.8 1759.6,857.8 1760.2,862.4 1760.7,866.7 1761.2,870.9 1761.6,874.9 1762,878.8 1762.4,882.7 1762.8,886.6 1763.2,890.6 1763.5,894.5 1763.9,898.4 1764.2,902.3 1764.6,906.3 1764.9,910.2 1765.3,914.2 1765.6,918.1 1765.9,922.1 1766.3,926.1 1766.6,930 1766.9,934 1767.2,938 1767.5,941.9 1767.8,945.9 1768.2,949.9 1768.5,953.9 1768.8,957.8 1769.1,961.8 1769.4,965.8 1769.6,969.8 1769.9,973.7 1770.2,977.7 1770.5,981.7 1770.8,985.7 1771.1,989.7 1771.3,993.7 1771.6,997.6 1771.9,1001.6 1772.1,1005.6 1772.4,1009.6 1772.7,1013.6 1772.9,1017.6 1773.2,1021.6 1773.4,1025.5 1773.7,1029.5 1773.9,1033.5 1774.2,1037.5 1774.4,1041.5 1774.7,1045.5 1774.9,1049.5 1775.2,1053.5 1775.4,1057.5 1775.6,1061.5 1775.9,1065.5 1776.1,1069.5 1776.3,1073.5 1776.5,1077.5 1776.8,1081.5 1777,1085.5 1777.2,1089.5 1777.4,1093.5 1777.7,1097.5 1777.9,1101.5 1778.1,1105.5 1778.3,1109.5 1778.5,1113.5 1778.7,1117.5 1778.9,1121.5 1779.1,1125.5 1779.3,1129.5 1779.5,1133.5 1779.8,1137.5 1780,1141.5 1780.2,1145.5 1780.4,1149.5 1780.6,1153.6 1780.8,1157.6 1781,1161.6 1781.2,1165.6 1781.4,1169.6 1781.5,1173.6 1781.7,1177.6 1781.9,1181.6 1782.1,1185.6 1782.3,1189.6 1782.5,1193.6 1782.7,1197.7 1782.9,1201.7 1783.1,1205.7 1783.3,1209.7 1783.5,1213.7 1783.7,1217.7 1783.8,1221.7 1784,1225.7 1784.2,1229.8 1784.4,1233.8 1784.6,1237.8 1784.8,1241.8 1785,1245.8 1785.2,1249.8 1785.4,1253.8 1785.6,1257.8 1785.7,1261.9 1785.9,1265.9 1786.1,1269.9 1786.3,1273.9 1786.5,1277.9 1786.7,1281.9 1786.9,1285.9 1787.1,1289.9 1787.3,1294 1787.5,1298 1787.7,1302 1787.8,1306 1788,1310 1788.2,1314 1788.4,1318 1788.6,1322 1788.8,1326 1789,1330.1 1789.2,1334.1 1789.4,1338.1 1789.6,1342.1 1789.8,1346.1 1790,1350.1 1790.2,1354.1 1790.4,1358.1 1790.6,1362.1 1790.9,1366.1 1791.1,1370.2 1791.3,1374.2 1791.5,1378.2 1791.7,1382.2 1791.9,1386.2 1792.1,1390.2 1792.4,1394.2 1792.6,1398.2 1792.8,1402.2 1793,1406.2 1793.3,1410.2 1793.5,1414.2 1793.7,1418.2 1793.9,1422.2 1794.2,1426.2 1794.4,1430.2 1794.6,1434.2 1794.9,1438.2 1795.1,1442.2 1795.4,1446.2 1795.6,1450.2 1795.9,1454.2 1796.1,1458.2 1796.4,1462.2 1796.6,1466.2 1796.9,1470.2 1797.1,1474.2 1797.4,1478.2 1797.7,1482.2 1797.9,1486.2 1798.2,1490.2 1798.5,1494.1 1798.7,1498.1 1799,1502.1 1799.3,1506.1 1799.6,1510.1 1799.8,1514.1 1800.1,1518.1 1800.4,1522.1 1800.7,1526.1 1801,1530.1 1801.3,1534.1 1801.6,1538 1801.8,1542 1802.1,1546 1802.4,1550 1802.7,1554 1803,1558 1803.3,1562 1803.6,1566 1803.9,1570 1804.2,1574 1804.5,1578 1804.8,1582 1805.1,1586 1805.4,1590 1805.6,1594 1805.9,1598 1806.2,1602 1806.5,1606 1806.8,1610 1807.1,1614 1807.4,1618 1807.7,1622 1808,1626 1808.3,1630 1808.6,1634 1808.9,1638 1809.2,1642.1 1809.4,1646.1 1809.7,1650.1 1810,1654.1 1810.3,1658.1 1810.6,1662.1 1810.9,1666.2 1811.2,1670.2 1811.4,1674.2 1811.7,1678.2 1812,1682.3 1812.3,1686.3 1812.6,1690.3 1812.9,1694.3 1813.2,1698.3 1813.5,1702.4 1813.8,1706.4 1814.1,1710.4 1814.5,1714.4 1814.8,1718.4 1815.1,1722.4 1815.4,1726.4 1815.8,1730.4 1816.1,1734.4 1816.5,1738.4 1816.8,1742.4 1817.2,1746.4 1817.5,1750.4 1817.9,1754.3 1818.3,1758.3 1818.7,1762.3 1819.1,1766.2 1819.5,1770.2 1819.9,1774.2 1820.3,1778.1 1820.7,1782 1821.2,1786 1821.6,1789.9 1822.1,1793.8 1822.6,1797.8 1823.1,1801.7 1823.6,1805.6 1824.1,1809.5 1824.6,1813.4 1825.2,1817.3 1825.8,1821.3 1826.4,1825.2 1827,1829.1 1827.6,1833.1 1828.3,1837 1829,1841 1829.7,1844.9 1830.5,1848.9 1831.3,1852.9 1832.1,1856.9 1832.9,1861 1833.8,1865 1834.7,1869.1 1835.7,1873.1 1836.7,1877.2 1837.7,1881.4 1838.8,1885.5 1840,1889.6 1841.2,1893.6 1842.6,1897.6 1844,1901.4 1845.6,1905.1 1847.4,1908.6 1849.3,1911.9 1851.5,1915 1853.8,1917.7 1856.4,1920.2 1859.2,1922.3 1862.3,1924.1 1865.7,1925.4 1869.3,1926.4 1873.3,1926.9 1877.4,1927.1 1881.7,1926.9 1886,1926.6 1890.3,1926.1 1894.6,1925.4 1898.7,1924.7 1902.8,1923.9 1906.8,1923.2 1910.7,1922.4 1914.6,1921.6 1918.5,1920.9 1922.5,1920.3 1926.4,1919.8 1930.3,1919.4 1934.3,1919 1938.3,1918.8 1942.3,1918.7 1946.3,1918.7 1950.2,1918.7 1954.2,1918.8 1958.2,1919 1962.2,1919.3 1966.2,1919.7 1970.2,1920.2 1974.2,1920.7 1978.2,1921.3 1982.1,1922 1986.1,1922.7 1990,1923.5 1993.9,1924.4 1997.8,1925.3 2001.7,1926.3 2005.6,1927.3 2009.5,1928.3 2013.3,1929.4 2017.2,1930.5 2021.1,1931.6 2024.9,1932.7 2028.8,1933.9 2032.6,1935 2036.5,1936.2 2040.3,1937.4 2044.2,1938.5 2048,1939.6 2051.9,1940.8 2055.7,1941.8 2059.6,1942.9 2063.5,1943.9 2067.4,1944.9 2071.2,1945.9 2075.1,1946.8 2079,1947.7 2082.9,1948.5 2086.9,1949.2 2090.8,1949.9 2094.7,1950.5 2098.7,1951 2102.7,1951.4 2106.7,1951.8 2110.7,1952 2114.7,1952.2 2118.7,1952.3 2122.8,1952.2 2126.9,1952.1 2131,1951.8" stroke="#0000ff" stroke-width="9.4"/>
<line x1="994" y1="1952.8" x2="1131" y2="1952.8" stroke="#0000ff" stroke-width="9.4"/>
</g>
<g clip-path="url(#pb)" fill="none" stroke-linejoin="round">
<path d="M390,3312.5 394,3312.5 398,3312.5 402,3312.6 406,3312.6 410,3312.6 414,3312.6 418,3312.6 422,3312.6 426,3312.6 430,3312.6 434,3312.6 438.1,3312.6 442.1,3312.6 446.1,3312.6 450.1,3312.6 454.1,3312.6 458.1,3312.6 462.1,3312.6 466.1,3312.5 470.1,3312.5 474.1,3312.5 478.2,3312.5 482.2,3312.5 486.2,3312.5 490.2,3312.5 494.2,3312.5 498.2,3312.4 502.2,3312.4 506.2,3312.4 510.3,3312.4 514.3,3312.4 518.3,3312.4 522.3,3312.4 526.3,3312.4 530.3,3312.4 534.3,3312.4 538.3,3312.4 542.3,3312.4 546.3,3312.4 550.3,3312.4 554.3,3312.4 558.4,3312.4 562.4,3312.4 566.4,3312.4 570.4,3312.4 574.4,3312.4 578.4,3312.5 582.4,3312.5 586.4,3312.5 590.4,3312.5 594.4,3312.6 598.3,3312.6 602.3,3312.7 606.3,3312.7 610.3,3312.7 614.3,3312.8 618.3,3312.8 622.3,3312.8 626.3,3312.8 630.3,3312.8 634.3,3312.8 638.3,3312.8 642.4,3312.8 646.4,3312.7 650.4,3312.7 654.4,3312.6 658.5,3312.5 662.5,3312.4 666.6,3312.3 670.6,3312.1 674.7,3311.9 678.7,3311.7 682.8,3311.4 686.8,3311 690.7,3310.4 694.5,3309.7 698.3,3308.7 701.9,3307.5 705.4,3306 708.8,3304.2 712,3302.1 715.1,3299.8 718,3297.2 720.8,3294.3 723.5,3291.3 726.1,3288.1 728.5,3284.7 730.9,3281.2 733.2,3277.6 735.4,3274 737.5,3270.2 739.6,3266.5 741.6,3262.7 743.6,3259 745.5,3255.3 747.4,3251.7 749.2,3248 751,3244.5 752.8,3240.9 754.5,3237.3 756.1,3233.8 757.8,3230.2 759.4,3226.7 760.9,3223.1 762.4,3219.5 763.9,3215.9 765.3,3212.3 766.7,3208.7 768.1,3205 769.4,3201.3 770.6,3197.5 771.9,3193.8 773.1,3190 774.3,3186.2 775.4,3182.4 776.6,3178.5 777.7,3174.7 778.7,3170.8 779.8,3166.9 780.8,3163 781.8,3159.1 782.8,3155.2 783.8,3151.3 784.8,3147.4 785.7,3143.4 786.7,3139.5 787.6,3135.6 788.5,3131.6 789.5,3127.7 790.4,3123.8 791.3,3119.8 792.2,3115.9 793.1,3112 794,3108 794.9,3104.1 795.8,3100.2 796.7,3096.3 797.5,3092.4 798.4,3088.4 799.3,3084.5 800.2,3080.6 801,3076.7 801.9,3072.8 802.7,3068.9 803.5,3065 804.3,3061.1 805.2,3057.2 806,3053.2 806.7,3049.3 807.5,3045.4 808.3,3041.5 809.1,3037.6 809.8,3033.7 810.6,3029.8 811.3,3025.8 812,3021.9 812.7,3018 813.4,3014.1 814.1,3010.1 814.7,3006.2 815.4,3002.3 816,2998.3 816.6,2994.4 817.2,2990.4 817.8,2986.5 818.4,2982.5 818.9,2978.5 819.5,2974.6 820,2970.6 820.6,2966.6 821.1,2962.7 821.6,2958.7 822.1,2954.7 822.6,2950.7 823.1,2946.7 823.5,2942.8 824,2938.8 824.5,2934.8 824.9,2930.8 825.4,2926.8 825.8,2922.8 826.3,2918.8 826.7,2914.8 827.2,2910.8 827.6,2906.8 828,2902.8 828.5,2898.8 828.9,2894.8 829.3,2890.8 829.8,2886.9 830.2,2882.9 830.7,2878.9 831.1,2874.9 831.6,2870.9 832,2866.9 832.5,2862.9 832.9,2858.9 833.4,2854.9 833.9,2850.9 834.4,2846.9 834.8,2842.9 835.3,2838.9 835.8,2835 836.4,2831 836.9,2827 837.4,2823 838,2819.1 838.5,2815.1 839.1,2811.1 839.7,2807.2 840.3,2803.2 840.9,2799.2 841.5,2795.3 842.2,2791.3 842.9,2787.4 843.5,2783.4 844.2,2779.5 844.9,2775.6 845.7,2771.6 846.4,2767.7 847.2,2763.8 847.9,2759.9 848.7,2755.9 849.5,2752 850.3,2748.1 851.1,2744.2 852,2740.3 852.8,2736.4 853.7,2732.5 854.5,2728.6 855.4,2724.7 856.3,2720.8 857.2,2716.9 858.2,2713 859.1,2709.1 860,2705.2 861,2701.4 861.9,2697.5 862.9,2693.6 863.9,2689.7 864.9,2685.8 865.9,2682 866.9,2678.1 867.9,2674.2 868.9,2670.3 870,2666.5 871,2662.6 872.1,2658.7 873.1,2654.9 874.2,2651 875.2,2647.1 876.3,2643.3 877.4,2639.4 878.4,2635.5 879.5,2631.7 880.6,2627.8 881.7,2623.9 882.7,2620.1 883.8,2616.2 884.9,2612.3 885.9,2608.5 887,2604.6 888,2600.7 889.1,2596.9 890.1,2593 891.2,2589.1 892.2,2585.3 893.2,2581.4 894.2,2577.5 895.2,2573.6 896.2,2569.7 897.2,2565.8 898.2,2562 899.1,2558.1 900.1,2554.2 901,2550.3 901.9,2546.4 902.8,2542.5 903.7,2538.6 904.6,2534.7 905.4,2530.8 906.2,2526.8 907,2522.9 907.8,2519 908.6,2515.1 909.3,2511.1 910,2507.2 910.8,2503.3 911.4,2499.3 912.1,2495.4 912.8,2491.4 913.4,2487.5 914,2483.5 914.7,2479.6 915.3,2475.6 915.8,2471.7 916.4,2467.7 917,2463.7 917.5,2459.8 918.1,2455.8 918.6,2451.8 919.1,2447.8 919.6,2443.9 920.1,2439.9 920.6,2435.9 921.1,2431.9 921.6,2428 922.1,2424 922.6,2420 923,2416 923.5,2412 924,2408 924.4,2404 924.9,2400 925.3,2396.1 925.8,2392.1 926.2,2388.1 926.7,2384.1 927.1,2380.1 927.6,2376.1 928,2372.1 928.5,2368.1 929,2364.1 929.4,2360.1 929.9,2356.2 930.4,2352.2 930.9,2348.2 931.3,2344.2 931.8,2340.2 932.3,2336.2 932.8,2332.2 933.4,2328.3 933.9,2324.3 934.4,2320.3 935,2316.3 935.5,2312.3 936.1,2308.4 936.7,2304.4 937.3,2300.4 937.9,2296.4 938.5,2292.5 939.1,2288.5 939.7,2284.6 940.4,2280.6 941,2276.7 941.6,2272.8 942.3,2268.8 942.9,2264.9 943.5,2261 944.1,2257.2 944.8,2253.3 945.4,2249.4 946,2245.6 946.6,2241.8 947.1,2238 947.7,2234.2 948.3,2230.4 948.8,2226.6 949.5,2222.7 950.2,2218.7 951.1,2214.5 952.2,2210 953.5,2205.3 955,2200.4 956.7,2195.7 958.6,2192 960.6,2189.7 962.6,2189.3 964.5,2191 966.4,2194.3 968.2,2198.7 969.9,2203.5 971.3,2208.4 972.5,2212.9 973.5,2217.2 974.3,2221.2 975,2225.1 975.7,2228.9 976.2,2232.7 976.8,2236.5 977.3,2240.3 977.9,2244.1 978.4,2248 978.9,2251.9 979.4,2255.8 979.9,2259.7 980.4,2263.6 980.9,2267.6 981.4,2271.5 981.9,2275.5 982.4,2279.4 982.8,2283.4 983.3,2287.4 983.8,2291.3 984.2,2295.3 984.7,2299.3 985.2,2303.3 985.6,2307.2 986.1,2311.2 986.5,2315.2 987,2319.2 987.4,2323.2 987.9,2327.2 988.3,2331.2 988.8,2335.2 989.2,2339.2 989.6,2343.2 990,2347.1 990.5,2351.1 990.9,2355.1 991.3,2359.1 991.7,2363.1 992.1,2367.1 992.5,2371.1 992.9,2375.1 993.4,2379.1 993.8,2383.1 994.2,2387.1 994.5,2391.1 994.9,2395 995.3,2399 995.7,2403 996.1,2407 996.5,2411 996.9,2415 997.3,2419 997.6,2423 998,2427 998.4,2430.9 998.8,2434.9 999.1,2438.9 999.5,2442.9 999.9,2446.9 1000.3,2450.9 1000.6,2454.9 1001,2458.9 1001.4,2462.8 1001.7,2466.8 1002.1,2470.8 1002.5,2474.8 1002.8,2478.8 1003.2,2482.8 1003.6,2486.8 1003.9,2490.8 1004.3,2494.7 1004.7,2498.7 1005,2502.7 1005.4,2506.7 1005.8,2510.7 1006.1,2514.7 1006.5,2518.7 1006.9,2522.7 1007.2,2526.7 1007.6,2530.7 1008,2534.6 1008.3,2538.6 1008.7,2542.6 1009.1,2546.6 1009.5,2550.6 1009.8,2554.6 1010.2,2558.6 1010.6,2562.6 1011,2566.6 1011.4,2570.6 1011.8,2574.5 1012.2,2578.5 1012.6,2582.5 1013,2586.5 1013.4,2590.5 1013.8,2594.5 1014.2,2598.5 1014.7,2602.5 1015.1,2606.4 1015.5,2610.4 1016,2614.4 1016.5,2618.4 1016.9,2622.4 1017.4,2626.4 1017.9,2630.3 1018.3,2634.3 1018.8,2638.3 1019.3,2642.3 1019.8,2646.2 1020.4,2650.2 1020.9,2654.2 1021.4,2658.1 1022,2662.1 1022.5,2666.1 1023.1,2670 1023.7,2674 1024.3,2677.9 1024.9,2681.9 1025.5,2685.9 1026.1,2689.8 1026.7,2693.8 1027.4,2697.7 1028.1,2701.7 1028.7,2705.6 1029.4,2709.5 1030.1,2713.5 1030.8,2717.4 1031.6,2721.3 1032.3,2725.3 1033.1,2729.2 1033.8,2733.1 1034.6,2737 1035.4,2741 1036.2,2744.9 1037,2748.8 1037.8,2752.7 1038.7,2756.6 1039.5,2760.6 1040.3,2764.5 1041.1,2768.4 1041.9,2772.3 1042.8,2776.2 1043.6,2780.1 1044.4,2784.1 1045.2,2788 1046,2791.9 1046.8,2795.8 1047.5,2799.8 1048.3,2803.7 1049,2807.6 1049.8,2811.6 1050.5,2815.5 1051.2,2819.5 1051.9,2823.4 1052.6,2827.4 1053.3,2831.3 1054,2835.3 1054.7,2839.2 1055.4,2843.2 1056,2847.1 1056.7,2851.1 1057.3,2855.1 1058,2859 1058.6,2863 1059.2,2866.9 1059.9,2870.9 1060.5,2874.9 1061.1,2878.8 1061.7,2882.8 1062.3,2886.8 1062.9,2890.7 1063.5,2894.7 1064.1,2898.7 1064.6,2902.6 1065.2,2906.6 1065.8,2910.6 1066.4,2914.5 1066.9,2918.5 1067.5,2922.5 1068.1,2926.4 1068.6,2930.4 1069.2,2934.4 1069.7,2938.3 1070.3,2942.3 1070.8,2946.3 1071.3,2950.2 1071.9,2954.2 1072.4,2958.2 1073,2962.1 1073.5,2966.1 1074,2970.1 1074.5,2974 1075.1,2978 1075.6,2982 1076.1,2986 1076.6,2989.9 1077.2,2993.9 1077.7,2997.9 1078.2,3001.8 1078.7,3005.8 1079.2,3009.8 1079.7,3013.7 1080.3,3017.7 1080.8,3021.7 1081.3,3025.7 1081.8,3029.6 1082.3,3033.6 1082.8,3037.6 1083.3,3041.5 1083.8,3045.5 1084.3,3049.5 1084.9,3053.5 1085.4,3057.4 1085.9,3061.4 1086.4,3065.4 1086.9,3069.4 1087.4,3073.3 1087.9,3077.3 1088.4,3081.3 1089,3085.3 1089.5,3089.2 1090,3093.2 1090.5,3097.2 1091,3101.2 1091.6,3105.1 1092.1,3109.1 1092.6,3113.1 1093.2,3117.1 1093.7,3121 1094.2,3125 1094.8,3129 1095.4,3133 1095.9,3136.9 1096.5,3140.9 1097.1,3144.9 1097.7,3148.8 1098.3,3152.8 1098.9,3156.8 1099.6,3160.7 1100.2,3164.7 1100.9,3168.6 1101.6,3172.6 1102.3,3176.5 1103,3180.5 1103.8,3184.4 1104.5,3188.3 1105.3,3192.2 1106.1,3196.2 1107,3200.1 1107.8,3204 1108.7,3207.9 1109.6,3211.8 1110.5,3215.7 1111.5,3219.6 1112.5,3223.4 1113.5,3227.3 1114.6,3231.2 1115.6,3235 1116.7,3238.9 1117.9,3242.7 1119.1,3246.6 1120.3,3250.4 1121.5,3254.2 1122.8,3258" stroke="#c000cc" stroke-width="9.4"/>
<line x1="1155" y1="3313.2" x2="2131" y2="3313.2" stroke="#c000cc" stroke-width="9.4"/>
<path d="M1155,3315 1159.2,3315.1 1163.3,3315.1 1167.3,3314.9 1171.3,3314.6 1175.2,3314.1 1179.2,3313.5 1183,3312.8 1186.8,3311.9 1190.6,3311 1194.4,3309.9 1198.1,3308.7 1201.8,3307.4 1205.5,3305.9 1209.1,3304.4 1212.7,3302.8 1216.4,3301.2 1220,3299.4 1223.6,3297.5 1227.1,3295.6 1230.7,3293.6 1234.3,3291.6 1237.9,3289.5 1241.5,3287.4 1245.1,3285.2 1248.7,3283.1 1252.3,3281.1 1255.9,3279.1 1259.6,3277.4 1263.2,3275.8 1266.9,3274.4 1270.5,3273.3 1274.2,3272.5 1277.9,3272 1281.7,3271.9 1285.4,3272.2 1289.2,3272.9 1293,3273.9 1296.8,3275.2 1300.6,3276.7 1304.5,3278.3 1308.4,3280 1312.2,3281.7 1316.1,3283.4 1320.1,3284.9 1324,3286.3 1327.9,3287.4 1331.9,3288.3 1335.9,3288.9 1339.8,3289.2 1343.8,3289.2 1347.8,3289.1 1351.8,3288.8 1355.8,3288.3 1359.8,3287.8 1363.8,3287.3 1367.8,3286.7 1371.8,3286.1 1375.8,3285.6 1379.8,3285.2 1383.7,3285 1387.7,3284.8 1391.6,3284.9 1395.5,3285.1 1399.4,3285.4 1403.3,3285.8 1407.2,3286.4 1411.1,3287.1 1415,3287.8 1418.9,3288.6 1422.7,3289.5 1426.6,3290.4 1430.5,3291.4 1434.4,3292.4 1438.3,3293.5 1442.2,3294.5 1446.1,3295.5 1450,3296.5 1453.9,3297.5 1457.8,3298.5 1461.8,3299.4 1465.8,3300.3 1469.7,3301 1473.7,3301.8 1477.7,3302.4 1481.7,3303.1 1485.8,3303.6 1489.8,3304.1 1493.8,3304.6 1497.8,3305 1501.8,3305.4 1505.8,3305.8 1509.7,3306.1 1513.7,3306.4 1517.7,3306.7 1521.6,3307 1525.5,3307.2 1529.4,3307.4 1533.3,3307.6 1537.2,3307.9 1541,3308.1 1544.9,3308.3 1548.8,3308.5 1552.8,3308.7 1556.7,3308.9 1560.7,3309.1 1564.6,3309.4 1568.7,3309.7 1572.7,3310 1576.8,3310.3 1580.9,3310.7 1585.1,3311.1 1589.3,3311.6 1593.6,3312 1597.8,3312.4 1602.1,3312.8 1606.3,3313.1 1610.5,3313.3 1614.7,3313.3 1618.7,3313.2 1622.8,3313 1626.7,3312.5 1630.5,3311.8 1634.1,3310.8 1637.7,3309.6 1641.1,3308 1644.3,3306.2 1647.3,3304.1 1650.2,3301.6 1653,3299 1655.5,3296.1 1658,3293.1 1660.2,3289.8 1662.4,3286.4 1664.3,3282.9 1666.1,3279.2 1667.8,3275.5 1669.3,3271.7 1670.7,3267.9 1671.9,3264 1673,3260.1 1674,3256.2 1674.9,3252.3 1675.6,3248.3 1676.3,3244.3 1677,3240.3 1677.5,3236.3 1678,3232.3 1678.5,3228.3 1679,3224.3 1679.5,3220.3 1679.9,3216.3 1680.4,3212.3 1680.8,3208.3 1681.3,3204.3 1681.7,3200.3 1682.1,3196.3 1682.6,3192.3 1683,3188.3 1683.4,3184.3 1683.8,3180.3 1684.3,3176.3 1684.7,3172.3 1685.1,3168.3 1685.5,3164.3 1685.9,3160.4 1686.3,3156.4 1686.7,3152.4 1687.1,3148.4 1687.5,3144.4 1687.9,3140.4 1688.3,3136.4 1688.7,3132.5 1689.1,3128.5 1689.5,3124.5 1689.8,3120.5 1690.2,3116.5 1690.6,3112.5 1691,3108.5 1691.3,3104.6 1691.7,3100.6 1692.1,3096.6 1692.5,3092.6 1692.8,3088.6 1693.2,3084.6 1693.5,3080.6 1693.9,3076.7 1694.3,3072.7 1694.6,3068.7 1695,3064.7 1695.3,3060.7 1695.7,3056.7 1696,3052.7 1696.3,3048.8 1696.7,3044.8 1697,3040.8 1697.4,3036.8 1697.7,3032.8 1698,3028.8 1698.4,3024.8 1698.7,3020.8 1699,3016.8 1699.4,3012.8 1699.7,3008.9 1700,3004.9 1700.3,3000.9 1700.6,2996.9 1701,2992.9 1701.3,2988.9 1701.6,2984.9 1701.9,2980.9 1702.2,2976.9 1702.5,2972.9 1702.8,2968.9 1703.1,2964.9 1703.4,2960.9 1703.7,2957 1704,2953 1704.3,2949 1704.6,2945 1704.9,2941 1705.2,2937 1705.5,2933 1705.7,2929 1706,2925 1706.3,2921 1706.6,2917 1706.8,2913 1707.1,2909 1707.4,2905 1707.7,2901 1707.9,2897 1708.2,2893 1708.5,2889 1708.7,2885 1709,2881 1709.2,2877 1709.5,2873 1709.7,2869 1710,2865 1710.2,2861 1710.5,2857 1710.7,2853 1711,2849 1711.2,2845 1711.5,2841 1711.7,2837 1711.9,2833 1712.2,2829 1712.4,2825 1712.6,2821 1712.8,2817 1713.1,2813 1713.3,2809 1713.5,2805 1713.7,2801 1713.9,2797 1714.2,2793 1714.4,2788.9 1714.6,2784.9 1714.8,2780.9 1715,2776.9 1715.2,2772.9 1715.4,2768.9 1715.6,2764.9 1715.8,2760.9 1716,2756.9 1716.2,2752.9 1716.4,2748.9 1716.6,2744.9 1716.8,2740.9 1717,2736.9 1717.2,2732.9 1717.4,2728.9 1717.6,2724.8 1717.8,2720.8 1718,2716.8 1718.2,2712.8 1718.4,2708.8 1718.6,2704.8 1718.8,2700.8 1719,2696.8 1719.2,2692.8 1719.4,2688.8 1719.6,2684.8 1719.8,2680.8 1720,2676.8 1720.2,2672.8 1720.4,2668.8 1720.6,2664.8 1720.8,2660.8 1721,2656.8 1721.2,2652.8 1721.4,2648.8 1721.6,2644.8 1721.8,2640.7 1722,2636.7 1722.2,2632.7 1722.4,2628.7 1722.6,2624.7 1722.9,2620.7 1723.1,2616.7 1723.3,2612.8 1723.5,2608.8 1723.7,2604.8 1724,2600.8 1724.2,2596.8 1724.4,2592.8 1724.6,2588.8 1724.9,2584.8 1725.1,2580.8 1725.3,2576.8 1725.6,2572.8 1725.8,2568.8 1726.1,2564.8 1726.3,2560.8 1726.6,2556.8 1726.8,2552.8 1727.1,2548.9 1727.3,2544.9 1727.6,2540.9 1727.8,2536.9 1728.1,2532.9 1728.4,2528.9 1728.7,2524.9 1728.9,2521 1729.2,2517 1729.5,2513 1729.8,2509 1730,2505 1730.3,2501 1730.6,2497 1730.9,2493.1 1731.2,2489.1 1731.5,2485.1 1731.8,2481.1 1732,2477.1 1732.3,2473.1 1732.6,2469.1 1732.9,2465.1 1733.2,2461.1 1733.5,2457.1 1733.8,2453.1 1734.1,2449.2 1734.4,2445.2 1734.7,2441.2 1735,2437.2 1735.2,2433.2 1735.5,2429.2 1735.8,2425.1 1736.1,2421.1 1736.4,2417.1 1736.7,2413.1 1737,2409.1 1737.3,2405.1 1737.5,2401.1 1737.8,2397.1 1738.1,2393 1738.4,2389 1738.7,2385 1738.9,2381 1739.2,2376.9 1739.5,2372.9 1739.7,2368.9 1740,2364.8 1740.3,2360.8 1740.5,2356.7 1740.8,2352.7 1741.1,2348.6 1741.3,2344.6 1741.6,2340.5 1741.8,2336.5 1742.1,2332.5 1742.4,2328.4 1742.6,2324.4 1742.9,2320.4 1743.2,2316.4 1743.5,2312.4 1743.8,2308.4 1744.1,2304.4 1744.4,2300.5 1744.7,2296.6 1745,2292.7 1745.4,2288.8 1745.8,2284.9 1746.2,2281.1 1746.6,2277.3 1747,2273.5 1747.4,2269.8 1747.9,2266.1 1748.3,2262.4 1748.8,2258.7 1749.3,2255.1 1749.9,2251.5 1750.4,2247.7 1751,2243.9 1751.6,2239.9 1752.2,2235.6 1752.9,2231.1 1753.5,2226.4 1754.2,2221.2 1754.8,2215.8 1755.5,2210.2 1756.3,2204.7 1757.1,2199.6 1757.9,2195.2 1758.9,2191.7 1759.9,2189.3 1761,2188.3 1762.3,2189 1763.6,2191.3 1765,2194.8 1766.4,2199.2 1767.7,2204 1768.9,2208.9 1770,2213.7 1771,2218.2 1771.9,2222.4 1772.6,2226.6 1773.3,2230.6 1773.9,2234.4 1774.4,2238.3 1774.9,2242 1775.3,2245.8 1775.7,2249.6 1776.1,2253.4 1776.5,2257.3 1776.8,2261.1 1777.2,2265 1777.5,2269 1777.9,2272.9 1778.2,2276.9 1778.5,2280.8 1778.8,2284.8 1779.1,2288.8 1779.4,2292.7 1779.8,2296.7 1780.1,2300.7 1780.4,2304.7 1780.7,2308.7 1781,2312.6 1781.3,2316.6 1781.6,2320.6 1781.9,2324.6 1782.2,2328.6 1782.4,2332.6 1782.7,2336.6 1783,2340.6 1783.3,2344.5 1783.6,2348.5 1783.9,2352.5 1784.1,2356.5 1784.4,2360.5 1784.7,2364.5 1785,2368.5 1785.2,2372.5 1785.5,2376.5 1785.8,2380.5 1786,2384.5 1786.3,2388.5 1786.6,2392.5 1786.8,2396.5 1787.1,2400.5 1787.4,2404.5 1787.6,2408.5 1787.9,2412.5 1788.1,2416.5 1788.4,2420.5 1788.6,2424.5 1788.9,2428.5 1789.1,2432.5 1789.4,2436.5 1789.6,2440.5 1789.9,2444.6 1790.1,2448.6 1790.4,2452.6 1790.6,2456.6 1790.9,2460.6 1791.1,2464.6 1791.4,2468.6 1791.6,2472.6 1791.9,2476.6 1792.1,2480.6 1792.3,2484.6 1792.6,2488.6 1792.8,2492.6 1793,2496.6 1793.3,2500.6 1793.5,2504.6 1793.8,2508.6 1794,2512.6 1794.2,2516.6 1794.5,2520.6 1794.7,2524.6 1794.9,2528.6 1795.2,2532.6 1795.4,2536.6 1795.6,2540.6 1795.9,2544.6 1796.1,2548.6 1796.3,2552.6 1796.6,2556.6 1796.8,2560.7 1797,2564.7 1797.2,2568.7 1797.5,2572.7 1797.7,2576.7 1797.9,2580.7 1798.2,2584.7 1798.4,2588.7 1798.6,2592.7 1798.8,2596.7 1799.1,2600.7 1799.3,2604.7 1799.5,2608.7 1799.8,2612.7 1800,2616.7 1800.2,2620.7 1800.5,2624.7 1800.7,2628.7 1800.9,2632.7 1801.1,2636.7 1801.4,2640.7 1801.6,2644.7 1801.8,2648.7 1802.1,2652.7 1802.3,2656.7 1802.5,2660.7 1802.8,2664.7 1803,2668.7 1803.2,2672.7 1803.5,2676.7 1803.7,2680.7 1803.9,2684.7 1804.2,2688.7 1804.4,2692.7 1804.6,2696.7 1804.9,2700.7 1805.1,2704.7 1805.4,2708.7 1805.6,2712.7 1805.8,2716.7 1806.1,2720.7 1806.3,2724.7 1806.6,2728.7 1806.8,2732.7 1807.1,2736.7 1807.3,2740.7 1807.6,2744.7 1807.8,2748.7 1808.1,2752.7 1808.3,2756.7 1808.6,2760.7 1808.8,2764.7 1809.1,2768.7 1809.3,2772.7 1809.6,2776.7 1809.8,2780.7 1810.1,2784.7 1810.3,2788.7 1810.6,2792.7 1810.9,2796.7 1811.1,2800.6 1811.4,2804.6 1811.7,2808.6 1811.9,2812.6 1812.2,2816.6 1812.5,2820.6 1812.7,2824.6 1813,2828.6 1813.3,2832.6 1813.6,2836.6 1813.9,2840.6 1814.1,2844.6 1814.4,2848.5 1814.7,2852.5 1815,2856.5 1815.3,2860.5 1815.6,2864.5 1815.9,2868.5 1816.1,2872.5 1816.4,2876.5 1816.7,2880.5 1817,2884.4 1817.3,2888.4 1817.6,2892.4 1817.9,2896.4 1818.2,2900.4 1818.5,2904.4 1818.9,2908.4 1819.2,2912.4 1819.5,2916.3 1819.8,2920.3 1820.1,2924.3 1820.4,2928.3 1820.8,2932.3 1821.1,2936.3 1821.4,2940.3 1821.7,2944.3 1822.1,2948.2 1822.4,2952.2 1822.7,2956.2 1823.1,2960.2 1823.4,2964.2 1823.8,2968.2 1824.1,2972.2 1824.4,2976.2 1824.8,2980.2 1825.1,2984.1 1825.5,2988.1 1825.9,2992.1 1826.2,2996.1 1826.6,3000.1 1826.9,3004.1 1827.3,3008.1 1827.7,3012.1 1828.1,3016.1 1828.4,3020.1 1828.8,3024.1 1829.2,3028.1 1829.6,3032 1830,3036 1830.3,3040 1830.7,3044 1831.1,3048 1831.5,3052 1831.9,3056 1832.3,3060 1832.7,3064 1833.1,3068 1833.5,3072 1834,3076 1834.4,3080 1834.8,3084 1835.2,3088 1835.6,3092 1836.1,3096 1836.5,3100 1836.9,3104 1837.4,3108 1837.8,3112 1838.3,3116 1838.7,3120 1839.2,3124 1839.6,3128.1 1840.1,3132.1 1840.5,3136.1 1841,3140.1 1841.5,3144.1 1841.9,3148.1 1842.4,3152.1 1842.9,3156.1 1843.4,3160.1 1843.9,3164.2 1844.4,3168.2 1844.8,3172.2 1845.3,3176.2 1845.9,3180.2 1846.4,3184.2 1847,3188.2 1847.6,3192.2 1848.3,3196.1 1849,3200.1 1849.8,3204 1850.7,3207.8 1851.6,3211.7 1852.7,3215.5 1853.8,3219.3 1855.1,3223 1856.4,3226.7 1857.9,3230.3 1859.6,3233.9 1861.3,3237.4 1863.2,3240.9 1865.3,3244.3 1867.5,3247.7 1869.9,3250.9 1872.5,3254.1 1875.2,3257.2 1878.2,3260.1 1881.3,3262.7 1884.7,3264.8 1888.2,3266.4 1891.9,3267.3 1895.7,3267.6 1899.7,3267.5 1903.7,3267.2 1907.8,3266.6 1912,3266.1 1916,3265.8 1920.1,3265.5 1924.2,3265.3 1928.2,3265.2 1932.2,3265.3 1936.2,3265.4 1940.2,3265.6 1944.2,3266 1948.2,3266.4 1952.1,3266.8 1956.1,3267.4 1960,3268 1963.9,3268.8 1967.8,3269.5 1971.7,3270.4 1975.6,3271.3 1979.4,3272.3 1983.3,3273.3 1987.2,3274.4 1991,3275.5 1994.8,3276.6 1998.6,3277.8 2002.5,3279.1 2006.3,3280.4 2010.1,3281.7 2013.9,3283 2017.6,3284.4 2021.4,3285.7 2025.2,3287.1 2029,3288.5 2032.8,3289.9 2036.5,3291.3 2040.3,3292.7 2044.1,3294.1 2047.9,3295.5 2051.6,3296.8 2055.4,3298.1 2059.2,3299.4 2063,3300.7 2066.8,3301.9 2070.7,3303 2074.5,3304.1 2078.3,3305.1 2082.2,3306.1 2086.1,3307 2090,3307.9 2093.9,3308.6 2097.8,3309.3 2101.8,3309.9 2105.7,3310.4 2109.7,3310.7 2113.7,3311 2117.7,3311.2 2121.8,3311.2 2125.9,3311.2 2130,3311" stroke="#878787" stroke-width="9.4"/>
<path d="M1155,3311.7 1159.2,3311.9 1163.4,3311.9 1167.4,3311.5 1171.4,3310.9 1175.3,3310 1179.1,3308.9 1182.9,3307.7 1186.6,3306.2 1190.2,3304.6 1193.9,3302.8 1197.4,3301 1201,3299.1 1204.5,3297.1 1208.1,3295.1 1211.6,3293 1215.1,3291 1218.6,3289 1222.2,3287 1225.8,3285.1 1229.4,3283.3 1233,3281.7 1236.7,3280.1 1240.5,3278.8 1244.2,3277.6 1248,3276.6 1251.9,3275.8 1255.7,3275.2 1259.5,3274.8 1263.4,3274.8 1267.2,3274.9 1271.1,3275.4 1274.9,3276.1 1278.7,3277.2 1282.5,3278.6 1286.2,3280.3 1289.9,3282.3 1293.6,3284.3 1297.3,3286.4 1301,3288.4 1304.7,3290.1 1308.4,3291.4 1312.3,3292.3 1316.1,3292.7 1320,3292.6 1324,3292.2 1328,3291.6 1331.9,3290.8 1336,3289.9 1340,3289 1344,3288.2 1348,3287.3 1352,3286.6 1356,3285.9 1360,3285.4 1364,3284.9 1367.9,3284.6 1371.9,3284.4 1375.8,3284.3 1379.7,3284.5 1383.6,3284.8 1387.5,3285.4 1391.3,3286 1395.1,3286.9 1399,3287.8 1402.8,3288.9 1406.6,3290.1 1410.3,3291.4 1414.1,3292.7 1417.9,3294.1 1421.7,3295.6 1425.4,3297 1429.2,3298.5 1433,3299.9 1436.8,3301.4 1440.6,3302.7 1444.4,3304.1 1448.2,3305.3 1452.1,3306.5 1455.9,3307.5 1459.8,3308.5 1463.7,3309.3 1467.7,3310 1471.6,3310.6 1475.6,3311.1 1479.6,3311.5 1483.5,3311.8 1487.5,3312.1 1491.6,3312.3 1495.6,3312.5 1499.6,3312.6 1503.6,3312.7 1507.6,3312.7 1511.6,3312.7 1515.7,3312.7 1519.7,3312.7 1523.7,3312.7 1527.7,3312.7 1531.7,3312.7 1535.7,3312.7 1539.7,3312.7 1543.7,3312.6 1547.6,3312.6 1551.6,3312.6 1555.6,3312.6 1559.6,3312.6 1563.7,3312.6 1567.7,3312.6 1571.7,3312.6 1575.7,3312.6 1579.7,3312.6 1583.8,3312.6 1587.8,3312.6 1591.8,3312.5 1595.8,3312.3 1599.8,3312.1 1603.8,3311.8 1607.8,3311.3 1611.7,3310.8 1615.6,3310 1619.4,3309.2 1623.2,3308.1 1627,3306.9 1630.7,3305.4 1634.2,3303.7 1637.7,3301.8 1640.9,3299.5 1643.8,3296.9 1646.4,3294 1648.7,3290.8 1650.7,3287.4 1652.5,3283.8 1654.1,3280 1655.5,3276 1656.8,3272 1658,3267.9 1659.1,3263.9 1660.1,3259.9 1661.1,3255.9 1662.1,3251.9 1663,3247.9 1663.9,3244 1664.7,3240.1 1665.5,3236.1 1666.3,3232.2 1667.1,3228.3 1667.8,3224.4 1668.5,3220.5 1669.2,3216.6 1669.8,3212.7 1670.4,3208.7 1671.1,3204.8 1671.6,3200.9 1672.2,3196.9 1672.8,3193 1673.3,3189 1673.8,3185.1 1674.3,3181.1 1674.8,3177.2 1675.3,3173.2 1675.7,3169.2 1676.2,3165.2 1676.6,3161.3 1677,3157.3 1677.4,3153.3 1677.8,3149.3 1678.2,3145.3 1678.6,3141.3 1679,3137.4 1679.3,3133.4 1679.7,3129.4 1680,3125.4 1680.3,3121.4 1680.7,3117.4 1681,3113.4 1681.3,3109.4 1681.6,3105.4 1681.9,3101.4 1682.3,3097.4 1682.6,3093.4 1682.9,3089.4 1683.2,3085.4 1683.5,3081.4 1683.8,3077.4 1684.1,3073.4 1684.4,3069.4 1684.7,3065.4 1685,3061.4 1685.3,3057.4 1685.6,3053.4 1685.9,3049.4 1686.2,3045.4 1686.4,3041.4 1686.7,3037.4 1687,3033.4 1687.3,3029.4 1687.6,3025.4 1687.9,3021.4 1688.1,3017.4 1688.4,3013.4 1688.7,3009.4 1689,3005.4 1689.3,3001.4 1689.5,2997.4 1689.8,2993.4 1690.1,2989.4 1690.4,2985.4 1690.6,2981.4 1690.9,2977.4 1691.2,2973.4 1691.4,2969.4 1691.7,2965.4 1692,2961.4 1692.2,2957.4 1692.5,2953.4 1692.7,2949.4 1693,2945.4 1693.3,2941.4 1693.5,2937.4 1693.8,2933.4 1694,2929.4 1694.3,2925.4 1694.6,2921.4 1694.8,2917.4 1695.1,2913.4 1695.3,2909.4 1695.6,2905.4 1695.8,2901.4 1696.1,2897.4 1696.3,2893.4 1696.6,2889.4 1696.8,2885.4 1697.1,2881.4 1697.3,2877.4 1697.6,2873.4 1697.8,2869.4 1698,2865.4 1698.3,2861.4 1698.5,2857.4 1698.8,2853.4 1699,2849.4 1699.3,2845.4 1699.5,2841.4 1699.7,2837.4 1700,2833.4 1700.2,2829.4 1700.5,2825.4 1700.7,2821.4 1700.9,2817.5 1701.2,2813.5 1701.4,2809.5 1701.7,2805.5 1701.9,2801.5 1702.1,2797.5 1702.4,2793.5 1702.6,2789.5 1702.8,2785.5 1703.1,2781.5 1703.3,2777.5 1703.5,2773.5 1703.8,2769.5 1704,2765.5 1704.2,2761.5 1704.5,2757.5 1704.7,2753.5 1704.9,2749.5 1705.2,2745.5 1705.4,2741.5 1705.6,2737.5 1705.9,2733.5 1706.1,2729.5 1706.3,2725.5 1706.6,2721.5 1706.8,2717.5 1707,2713.5 1707.3,2709.5 1707.5,2705.5 1707.7,2701.5 1707.9,2697.5 1708.2,2693.5 1708.4,2689.5 1708.6,2685.5 1708.8,2681.5 1709.1,2677.5 1709.3,2673.5 1709.5,2669.5 1709.7,2665.5 1710,2661.5 1710.2,2657.5 1710.4,2653.5 1710.6,2649.5 1710.9,2645.5 1711.1,2641.5 1711.3,2637.5 1711.5,2633.5 1711.7,2629.5 1712,2625.5 1712.2,2621.5 1712.4,2617.5 1712.6,2613.5 1712.8,2609.5 1713.1,2605.5 1713.3,2601.5 1713.5,2597.5 1713.7,2593.5 1713.9,2589.5 1714.1,2585.5 1714.4,2581.5 1714.6,2577.5 1714.8,2573.5 1715,2569.5 1715.2,2565.5 1715.4,2561.5 1715.6,2557.5 1715.8,2553.5 1716.1,2549.5 1716.3,2545.5 1716.5,2541.5 1716.7,2537.5 1716.9,2533.5 1717.1,2529.5 1717.3,2525.5 1717.5,2521.4 1717.7,2517.4 1717.9,2513.4 1718.1,2509.4 1718.4,2505.4 1718.6,2501.4 1718.8,2497.4 1719,2493.4 1719.2,2489.4 1719.4,2485.4 1719.6,2481.4 1719.8,2477.4 1720,2473.4 1720.2,2469.4 1720.4,2465.4 1720.6,2461.4 1720.8,2457.4 1721,2453.4 1721.2,2449.3 1721.4,2445.3 1721.6,2441.3 1721.8,2437.3 1722,2433.3 1722.2,2429.3 1722.4,2425.3 1722.6,2421.3 1722.8,2417.3 1723,2413.3 1723.2,2409.3 1723.4,2405.3 1723.6,2401.3 1723.8,2397.3 1724,2393.3 1724.2,2389.3 1724.4,2385.3 1724.6,2381.3 1724.8,2377.3 1725,2373.3 1725.2,2369.3 1725.4,2365.3 1725.6,2361.3 1725.9,2357.3 1726.1,2353.3 1726.3,2349.3 1726.5,2345.3 1726.7,2341.3 1726.9,2337.3 1727.1,2333.3 1727.3,2329.3 1727.5,2325.3 1727.7,2321.4 1727.9,2317.4 1728.1,2313.4 1728.4,2309.4 1728.6,2305.4 1728.8,2301.4 1729,2297.4 1729.2,2293.4 1729.5,2289.5 1729.7,2285.5 1730,2281.5 1730.2,2277.6 1730.5,2273.6 1730.8,2269.7 1731.1,2265.7 1731.5,2261.8 1731.8,2257.9 1732.2,2254 1732.6,2250.1 1733.1,2246.2 1733.5,2242.3 1734,2238.4 1734.6,2234.6 1735.1,2230.8 1735.8,2226.9 1736.5,2222.8 1737.3,2218.7 1738.2,2214.2 1739.2,2209.5 1740.4,2204.5 1741.7,2199.5 1743.2,2195.1 1744.6,2191.7 1746.2,2189.9 1747.7,2190.1 1749.2,2192.2 1750.7,2195.8 1752.1,2200.3 1753.4,2205.4 1754.6,2210.4 1755.6,2215.1 1756.4,2219.6 1757.2,2223.9 1757.9,2228 1758.5,2232 1759.1,2235.9 1759.6,2239.8 1760.1,2243.6 1760.6,2247.5 1761,2251.3 1761.4,2255.1 1761.9,2258.9 1762.3,2262.7 1762.6,2266.6 1763,2270.4 1763.3,2274.3 1763.7,2278.2 1764,2282 1764.3,2286 1764.6,2289.9 1764.9,2293.8 1765.1,2297.8 1765.4,2301.7 1765.6,2305.7 1765.9,2309.7 1766.1,2313.7 1766.4,2317.7 1766.6,2321.7 1766.8,2325.7 1767,2329.7 1767.2,2333.7 1767.4,2337.7 1767.6,2341.8 1767.9,2345.8 1768.1,2349.8 1768.3,2353.8 1768.5,2357.9 1768.7,2361.9 1768.9,2365.9 1769.1,2370 1769.3,2374 1769.5,2378 1769.7,2382 1770,2386 1770.2,2390.1 1770.4,2394.1 1770.6,2398.1 1770.8,2402.1 1771.1,2406.1 1771.3,2410.1 1771.5,2414.1 1771.7,2418.2 1772,2422.2 1772.2,2426.2 1772.4,2430.2 1772.7,2434.2 1772.9,2438.2 1773.1,2442.2 1773.4,2446.2 1773.6,2450.2 1773.8,2454.2 1774.1,2458.2 1774.3,2462.2 1774.5,2466.2 1774.8,2470.2 1775,2474.2 1775.2,2478.2 1775.5,2482.2 1775.7,2486.2 1775.9,2490.2 1776.2,2494.2 1776.4,2498.2 1776.7,2502.2 1776.9,2506.2 1777.1,2510.2 1777.4,2514.2 1777.6,2518.2 1777.8,2522.1 1778.1,2526.1 1778.3,2530.1 1778.6,2534.1 1778.8,2538.1 1779,2542.1 1779.3,2546.1 1779.5,2550.1 1779.7,2554.1 1780,2558.1 1780.2,2562.1 1780.4,2566.1 1780.7,2570.1 1780.9,2574.1 1781.1,2578 1781.3,2582 1781.6,2586 1781.8,2590 1782,2594 1782.3,2598 1782.5,2602 1782.7,2606 1782.9,2610 1783.2,2614 1783.4,2618 1783.6,2622 1783.8,2626 1784,2630 1784.2,2634 1784.5,2638 1784.7,2642 1784.9,2646 1785.1,2650 1785.3,2654 1785.5,2658 1785.7,2662 1786,2666 1786.2,2670 1786.4,2674 1786.6,2678 1786.8,2682 1787,2686 1787.2,2690 1787.4,2694 1787.6,2698 1787.8,2702 1788,2706 1788.2,2710 1788.5,2714.1 1788.7,2718.1 1788.9,2722.1 1789.1,2726.1 1789.3,2730.1 1789.5,2734.1 1789.7,2738.1 1789.9,2742.1 1790.1,2746.1 1790.3,2750.1 1790.5,2754.1 1790.7,2758.1 1790.9,2762.1 1791.1,2766.1 1791.3,2770.1 1791.5,2774.1 1791.7,2778.1 1791.9,2782.1 1792.1,2786.1 1792.4,2790.1 1792.6,2794.1 1792.8,2798.2 1793,2802.2 1793.2,2806.2 1793.4,2810.2 1793.6,2814.2 1793.8,2818.2 1794,2822.2 1794.2,2826.2 1794.4,2830.2 1794.7,2834.2 1794.9,2838.2 1795.1,2842.2 1795.3,2846.2 1795.5,2850.2 1795.7,2854.2 1795.9,2858.2 1796.2,2862.2 1796.4,2866.2 1796.6,2870.2 1796.8,2874.2 1797.1,2878.2 1797.3,2882.2 1797.5,2886.2 1797.7,2890.2 1798,2894.2 1798.2,2898.2 1798.4,2902.2 1798.7,2906.2 1798.9,2910.2 1799.1,2914.2 1799.4,2918.2 1799.6,2922.2 1799.8,2926.2 1800.1,2930.2 1800.3,2934.2 1800.6,2938.2 1800.8,2942.2 1801.1,2946.1 1801.3,2950.1 1801.6,2954.1 1801.8,2958.1 1802.1,2962.1 1802.4,2966.1 1802.6,2970.1 1802.9,2974.1 1803.2,2978.1 1803.4,2982.1 1803.7,2986.1 1804,2990.1 1804.3,2994.1 1804.6,2998.1 1804.8,3002.1 1805.1,3006.1 1805.4,3010.1 1805.7,3014.1 1806,3018.1 1806.3,3022.1 1806.6,3026 1806.9,3030 1807.2,3034 1807.5,3038 1807.8,3042 1808.2,3046 1808.5,3050 1808.8,3054 1809.1,3058 1809.5,3062 1809.8,3066 1810.1,3070 1810.5,3074 1810.8,3077.9 1811.2,3081.9 1811.5,3085.9 1811.9,3089.9 1812.2,3093.9 1812.6,3097.9 1813,3101.9 1813.3,3105.9 1813.7,3109.9 1814.1,3113.9 1814.5,3117.9 1814.9,3121.8 1815.3,3125.8 1815.6,3129.8 1816,3133.8 1816.5,3137.8 1816.9,3141.8 1817.3,3145.8 1817.7,3149.8 1818.1,3153.8 1818.5,3157.8 1819,3161.7 1819.4,3165.7 1819.8,3169.7 1820.3,3173.7 1820.7,3177.7 1821.2,3181.7 1821.7,3185.7 1822.2,3189.7 1822.8,3193.6 1823.3,3197.6 1823.9,3201.6 1824.6,3205.5 1825.3,3209.5 1826,3213.4 1826.8,3217.3 1827.7,3221.2 1828.6,3225.1 1829.6,3229 1830.7,3232.9 1831.8,3236.8 1833,3240.6 1834.3,3244.4 1835.7,3248.3 1837.2,3252.1 1838.8,3255.8 1840.5,3259.6 1842.3,3263.3 1844.2,3266.9 1846.3,3270.4 1848.5,3273.7 1850.9,3276.7 1853.5,3279.4 1856.3,3281.7 1859.4,3283.7 1862.7,3285.2 1866.3,3286.1 1870.1,3286.5 1874.2,3286.5 1878.4,3286 1882.7,3285.3 1887,3284.4 1891.3,3283.4 1895.5,3282.5 1899.5,3281.6 1903.5,3280.8 1907.3,3280.1 1911.2,3279.4 1915,3278.7 1918.9,3278.1 1922.8,3277.5 1926.7,3276.9 1930.7,3276.3 1934.8,3275.8 1938.9,3275.4 1942.9,3275.1 1947,3274.9 1951,3274.9 1955,3275 1959,3275.3 1963,3275.7 1966.9,3276.3 1970.8,3277 1974.7,3277.8 1978.6,3278.7 1982.4,3279.6 1986.3,3280.7 1990.1,3281.8 1993.9,3282.9 1997.7,3284.1 2001.6,3285.3 2005.4,3286.5 2009.2,3287.7 2013,3288.9 2016.9,3290.1 2020.7,3291.4 2024.5,3292.5 2028.4,3293.7 2032.2,3294.9 2036,3296.1 2039.9,3297.2 2043.7,3298.3 2047.6,3299.4 2051.5,3300.4 2055.3,3301.5 2059.2,3302.5 2063.1,3303.4 2067,3304.3 2070.9,3305.2 2074.8,3306 2078.7,3306.8 2082.6,3307.6 2086.6,3308.2 2090.5,3308.9 2094.4,3309.4 2098.4,3309.9 2102.4,3310.4 2106.3,3310.7 2110.3,3311 2114.3,3311.3 2118.3,3311.4 2122.3,3311.5 2126.4,3311.5 2130.4,3311.4" stroke="#0000ff" stroke-width="9.4"/>
<line x1="986" y1="3312.6" x2="1122.8" y2="3312.6" stroke="#0000ff" stroke-width="9.4"/>
</g>
<line x1="644.4" y1="619.4" x2="652.2" y2="1944.5" stroke="#838383" stroke-width="8.8" stroke-dasharray="51.9 39.05"/>
<line x1="656.6" y1="1984" x2="664.5" y2="3309" stroke="#838383" stroke-width="8.8" stroke-dasharray="51.9 39.05"/>
<text x="364" y="1977.5" font-size="86" text-anchor="end" fill="#000" >0.0</text>
<text x="364" y="1753.4" font-size="86" text-anchor="end" fill="#000" >0.2</text>
<text x="364" y="1529.3" font-size="86" text-anchor="end" fill="#000" >0.4</text>
<text x="364" y="1305.2" font-size="86" text-anchor="end" fill="#000" >0.6</text>
<text x="364" y="1081.1" font-size="86" text-anchor="end" fill="#000" >0.8</text>
<text x="364" y="857" font-size="86" text-anchor="end" fill="#000" >1.0</text>
<text x="364" y="632.9" font-size="86" text-anchor="end" fill="#000" >1.2</text>
<text x="364" y="3336" font-size="86" text-anchor="end" fill="#000" >0.0</text>
<text x="364" y="3111.4" font-size="86" text-anchor="end" fill="#000" >0.2</text>
<text x="364" y="2886.8" font-size="86" text-anchor="end" fill="#000" >0.4</text>
<text x="364" y="2662.2" font-size="86" text-anchor="end" fill="#000" >0.6</text>
<text x="364" y="2437.6" font-size="86" text-anchor="end" fill="#000" >0.8</text>
<text x="364" y="2213" font-size="86" text-anchor="end" fill="#000" >1.0</text>
<text x="476.8" y="2056.5" font-size="86" text-anchor="middle" fill="#000" >-0.5</text>
<text x="649.4" y="2056.5" font-size="86" text-anchor="middle" fill="#000" >0.0</text>
<text x="822" y="2056.5" font-size="86" text-anchor="middle" fill="#000" >0.5</text>
<text x="994.7" y="2056.5" font-size="86" text-anchor="middle" fill="#000" >1.0</text>
<text x="1266.8" y="2056.5" font-size="86" text-anchor="middle" fill="#000" >2.0</text>
<text x="1439.6" y="2056.5" font-size="86" text-anchor="middle" fill="#000" >2.5</text>
<text x="1612.4" y="2056.5" font-size="86" text-anchor="middle" fill="#000" >3.0</text>
<text x="1785.2" y="2056.5" font-size="86" text-anchor="middle" fill="#000" >3.5</text>
<text x="1958" y="2056.5" font-size="86" text-anchor="middle" fill="#000" >4.0</text>
<text x="508.8" y="3422" font-size="86" text-anchor="middle" fill="#000" >-0.5</text>
<text x="679.1" y="3422" font-size="86" text-anchor="middle" fill="#000" >0.0</text>
<text x="849.5" y="3422" font-size="86" text-anchor="middle" fill="#000" >0.5</text>
<text x="1019.8" y="3422" font-size="86" text-anchor="middle" fill="#000" >1.0</text>
<text x="1291.1" y="3422" font-size="86" text-anchor="middle" fill="#000" >2.0</text>
<text x="1465.5" y="3422" font-size="86" text-anchor="middle" fill="#000" >2.5</text>
<text x="1640" y="3422" font-size="86" text-anchor="middle" fill="#000" >3.0</text>
<text x="1814.4" y="3422" font-size="86" text-anchor="middle" fill="#000" >3.5</text>
<text x="1988.9" y="3422" font-size="86" text-anchor="middle" fill="#000" >4.0</text>
<text x="2163.3" y="3422" font-size="86" text-anchor="middle" fill="#000" >4.5</text>
<text x="0" y="0" font-size="104" transform="translate(156,1858) rotate(-90)">Intensity // DOS (arb. units)</text>
<text x="0" y="0" font-size="104" transform="translate(156,3218.5) rotate(-90)">Intensity // DOS (arb. units)</text>
<text x="987.5" y="3567" font-size="103" text-anchor="start" fill="#000" >Energy (eV)</text>
<text x="428" y="778.5" font-size="121" text-anchor="start" fill="#000" >a)</text>
<text x="447" y="2265" font-size="121" text-anchor="start" fill="#000" >b)</text>
<text x="681" y="815" font-size="110" text-anchor="start" fill="#990000" >0.71</text>
<text x="973" y="952" font-size="110" text-anchor="start" fill="#00ffff" >0.76</text>
<text x="1024" y="2253.8" font-size="110" text-anchor="start" fill="#c000cc" >0.93</text>
<text x="1806" y="2226.5" font-size="110" text-anchor="start" fill="#404040" >3.44</text>
<text x="1154" y="3187.5" font-size="110" text-anchor="start" fill="#404040" >2.07</text>
<text x="1411" y="3218" font-size="110" text-anchor="start" fill="#404040" >2.40</text>
<line x1="438" y1="75.6" x2="596" y2="75.6" stroke="#ff0000" stroke-width="8.5" stroke-linecap="round"/>
<rect x="438.5" y="125" width="155" height="75" fill="#dc9fa0" stroke="#999" stroke-width="1.5"/>
<line x1="438" y1="265" x2="596" y2="265" stroke="#0000ff" stroke-width="8.5" stroke-linecap="round"/>
<rect x="438.5" y="314.5" width="155" height="74.5" fill="#abfffa"/><path d="M438.5,389V314.5H593.5V389" fill="none" stroke="#aaa" stroke-width="1.5"/>
<line x1="439" y1="437.6" x2="597" y2="437.6" stroke="#878787" stroke-width="8.5" stroke-linecap="round"/>
<rect x="440" y="488.5" width="155" height="74.5" fill="#fbbaf9" stroke="#aaa" stroke-width="1.5"/>
<text x="615" y="100.1" font-size="71.5" text-anchor="start" fill="#000" >QM(wB97XD)/MM@Classical MD</text>
<text x="615" y="185.7" font-size="71.5">T<tspan font-size="48" dy="19.5">1</tspan><tspan dy="-19.5"> DOS</tspan></text>
<text x="615" y="289.7" font-size="71.5" text-anchor="start" fill="#000" >QM(wB97XD)/MM@100 QM(B3LYP)/MM-MD</text>
<text x="615" y="376.2" font-size="71.5">T<tspan font-size="48" dy="19.5">1</tspan><tspan dy="-19.5"> DOS</tspan></text>
<text x="615" y="463.3" font-size="71.5" text-anchor="start" fill="#000" >QM(wB97XD)/MM@100 QM(wB97XD)/MM-MD</text>
<text x="615" y="549.2" font-size="71.5">T<tspan font-size="48" dy="19.5">1</tspan><tspan dy="-19.5"> DOS</tspan></text>
</svg></body></html>
